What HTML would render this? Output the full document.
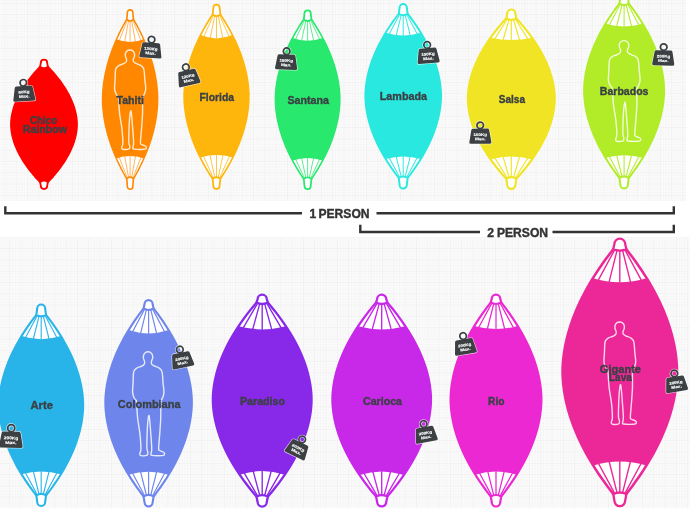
<!DOCTYPE html>
<html lang="en"><head><meta charset="utf-8"><title>Hammock sizes</title>
<style>
html,body{margin:0;padding:0;background:#fff}
body{width:690px;height:508px;overflow:hidden;position:relative}
svg{display:block;position:absolute;left:-4px;top:-4px;filter:blur(.55px)}
text{font-family:"Liberation Sans",sans-serif;font-weight:700}
.lb{fill:#3a4044;text-anchor:start;stroke:#3a4044;stroke-width:.35px}
.tg{fill:#fff;font-size:3.6px;text-anchor:middle;stroke:#fff;stroke-width:.12px}
.pp{fill:#333;font-size:12.1px;stroke:#333;stroke-width:.4px}
</style></head><body>
<svg width="698" height="516" viewBox="-4 -4 698 516">
<rect x="-4" y="-4" width="698" height="516" fill="#fff"/>
<rect x="-4" y="-4" width="690" height="205" fill="#fbfbfb"/>
<rect x="-4" y="237.2" width="698" height="275" fill="#fbfbfb"/>
<defs><pattern id="ga" x="4.5" y="2.8" width="11.3" height="11.3" patternUnits="userSpaceOnUse"><path d="M3.33,0V11.3 M0,3.33H11.3 M6.15,0V11.3 M0,6.15H11.3 M8.98,0V11.3 M0,8.98H11.3" stroke="#f6f6f6" stroke-width=".7" fill="none"/><path d="M.5,0V11.3 M0,.5H11.3" stroke="#f1f1f1" stroke-width=".9" fill="none"/></pattern><pattern id="gb" x="9.2" y="248.1" width="11.3" height="11.3" patternUnits="userSpaceOnUse"><path d="M3.33,0V11.3 M0,3.33H11.3 M6.15,0V11.3 M0,6.15H11.3 M8.98,0V11.3 M0,8.98H11.3" stroke="#f6f6f6" stroke-width=".7" fill="none"/><path d="M.5,0V11.3 M0,.5H11.3" stroke="#f1f1f1" stroke-width=".9" fill="none"/></pattern></defs>
<rect x="-4" y="-4" width="690" height="205" fill="url(#ga)"/>
<rect x="-4" y="237.2" width="698" height="275" fill="url(#gb)"/>
<g stroke="#fe0000" stroke-linejoin="round">
<path d="M47.96,66.6 49.78,68.53 51.54,70.45 53.24,72.38 54.89,74.31 56.48,76.23 58.02,78.16 59.5,80.09 60.92,82.01 62.29,83.94 63.59,85.87 64.85,87.79 66.04,89.72 67.17,91.65 68.25,93.57 69.27,95.5 70.22,97.43 71.12,99.35 71.96,101.28 72.74,103.21 73.45,105.13 74.11,107.06 74.7,108.99 75.23,110.91 75.7,112.84 76.1,114.77 76.43,116.69 76.7,118.62 76.89,120.55 77.02,122.47 77.06,124.4 77.02,126.33 76.89,128.25 76.7,130.18 76.43,132.11 76.1,134.03 75.7,135.96 75.23,137.89 74.7,139.81 74.11,141.74 73.45,143.67 72.74,145.59 71.96,147.52 71.12,149.45 70.22,151.37 69.27,153.3 68.25,155.23 67.17,157.15 66.04,159.08 64.85,161.01 63.59,162.93 62.29,164.86 60.92,166.79 59.5,168.71 58.02,170.64 56.48,172.57 54.89,174.49 53.24,176.42 51.54,178.35 49.78,180.27 47.96,182.2 L40.04,182.2 38.22,180.27 36.46,178.35 34.76,176.42 33.11,174.49 31.52,172.57 29.98,170.64 28.5,168.71 27.08,166.79 25.71,164.86 24.41,162.93 23.15,161.01 21.96,159.08 20.83,157.15 19.75,155.23 18.73,153.3 17.78,151.37 16.88,149.45 16.04,147.52 15.26,145.59 14.55,143.67 13.89,141.74 13.3,139.81 12.77,137.89 12.3,135.96 11.9,134.03 11.57,132.11 11.3,130.18 11.11,128.25 10.98,126.33 10.94,124.4 10.98,122.47 11.11,120.55 11.3,118.62 11.57,116.69 11.9,114.77 12.3,112.84 12.77,110.91 13.3,108.99 13.89,107.06 14.55,105.13 15.26,103.21 16.04,101.28 16.88,99.35 17.78,97.43 18.73,95.5 19.75,93.57 20.83,91.65 21.96,89.72 23.15,87.79 24.41,85.87 25.71,83.94 27.08,82.01 28.5,80.09 29.98,78.16 31.52,76.23 33.11,74.31 34.76,72.38 36.46,70.45 38.22,68.53 40.04,66.6Z" fill="#fe0000" stroke-width="1.67"/>
<path d="M40.11,66.6 L40.81,62.9 A3.19,3.19 0 0 1 47.19,62.9 L47.89,66.6 Q44,69.8 40.11,66.6 Z" fill="#fff" stroke-width="1.82"/>
<path d="M40.11,182.2 L40.81,185.8 A3.19,3.19 0 0 0 47.19,185.8 L47.89,182.2 Q44,179 40.11,182.2 Z" fill="#fff" stroke-width="1.82"/>
</g>
<g stroke="#ff8800" stroke-linejoin="round">
<path d="M133.52,19.4 135.03,22.06 136.49,24.71 137.9,27.37 139.27,30.03 140.59,32.68 141.87,35.34 143.1,38 144.28,40.65 145.41,43.31 146.5,45.97 147.54,48.62 148.53,51.28 149.47,53.94 150.36,56.59 151.21,59.25 152,61.91 152.75,64.56 153.44,67.22 154.09,69.88 154.68,72.53 155.23,75.19 155.72,77.85 156.16,80.5 156.55,83.16 156.88,85.82 157.16,88.47 157.38,91.13 157.54,93.79 157.64,96.44 157.68,99.1 157.64,101.76 157.54,104.41 157.38,107.07 157.16,109.73 156.88,112.38 156.55,115.04 156.16,117.7 155.72,120.35 155.23,123.01 154.68,125.67 154.09,128.32 153.44,130.98 152.75,133.64 152,136.29 151.21,138.95 150.36,141.61 149.47,144.26 148.53,146.92 147.54,149.58 146.5,152.23 145.41,154.89 144.28,157.55 143.1,160.2 141.87,162.86 140.59,165.52 139.27,168.17 137.9,170.83 136.49,173.49 135.03,176.14 133.52,178.8 L126.68,178.8 125.17,176.14 123.71,173.49 122.3,170.83 120.93,168.17 119.61,165.52 118.33,162.86 117.1,160.2 115.92,157.55 114.79,154.89 113.7,152.23 112.66,149.58 111.67,146.92 110.73,144.26 109.84,141.61 108.99,138.95 108.2,136.29 107.45,133.64 106.76,130.98 106.11,128.32 105.52,125.67 104.97,123.01 104.48,120.35 104.04,117.7 103.65,115.04 103.32,112.38 103.04,109.73 102.82,107.07 102.66,104.41 102.56,101.76 102.52,99.1 102.56,96.44 102.66,93.79 102.82,91.13 103.04,88.47 103.32,85.82 103.65,83.16 104.04,80.5 104.48,77.85 104.97,75.19 105.52,72.53 106.11,69.88 106.76,67.22 107.45,64.56 108.2,61.91 108.99,59.25 109.84,56.59 110.73,53.94 111.67,51.28 112.66,48.62 113.7,45.97 114.79,43.31 115.92,40.65 117.1,38 118.33,35.34 119.61,32.68 120.93,30.03 122.3,27.37 123.71,24.71 125.17,22.06 126.68,19.4Z" fill="#fff" stroke-width="1.44"/>
<path d="M127.43,19.9 L119.23,40.77 M127.43,178.3 L119.06,157.04 M128.73,19.9 L124.67,42.07 M128.73,178.3 L124.58,155.88 M130.1,19.9 L130.1,42.5 M130.1,178.3 L130.1,155.5 M131.47,19.9 L135.53,42.07 M131.47,178.3 L135.62,155.88 M132.77,19.9 L140.97,40.77 M132.77,178.3 L141.14,157.04" fill="none" stroke-width="0.76" stroke-opacity="0.81"/>
<path d="M116.52,39.3 Q130.1,44.7 143.68,39.3 L144.72,41.68 145.73,44.06 146.69,46.45 147.61,48.83 148.5,51.21 149.35,53.59 150.16,55.97 150.93,58.36 151.66,60.74 152.35,63.12 153,65.5 153.61,67.88 154.18,70.27 154.71,72.65 155.2,75.03 155.64,77.41 156.05,79.79 156.41,82.18 156.73,84.56 157,86.94 157.23,89.32 157.42,91.7 157.55,94.09 157.64,96.47 157.68,98.85 157.66,101.23 157.58,103.61 157.45,106 157.27,108.38 157.05,110.76 156.79,113.14 156.48,115.52 156.13,117.91 155.73,120.29 155.29,122.67 154.81,125.05 154.29,127.43 153.73,129.82 153.13,132.2 152.49,134.58 151.81,136.96 151.08,139.34 150.32,141.73 149.52,144.11 148.68,146.49 147.8,148.87 146.89,151.25 145.93,153.64 144.94,156.02 143.9,158.4 Q130.1,153.6 116.3,158.4 L115.26,156.02 114.27,153.64 113.31,151.25 112.4,148.87 111.52,146.49 110.68,144.11 109.88,141.73 109.12,139.34 108.39,136.96 107.71,134.58 107.07,132.2 106.47,129.82 105.91,127.43 105.39,125.05 104.91,122.67 104.47,120.29 104.07,117.91 103.72,115.52 103.41,113.14 103.15,110.76 102.93,108.38 102.75,106 102.62,103.61 102.54,101.23 102.52,98.85 102.56,96.47 102.65,94.09 102.78,91.7 102.97,89.32 103.2,86.94 103.47,84.56 103.79,82.18 104.15,79.79 104.56,77.41 105,75.03 105.49,72.65 106.02,70.27 106.59,67.88 107.2,65.5 107.85,63.12 108.54,60.74 109.27,58.36 110.04,55.97 110.85,53.59 111.7,51.21 112.59,48.83 113.51,46.45 114.47,44.06 115.48,41.68Z" fill="#ff8800" stroke="none"/>
<path d="M126.79,19.4 L127.38,12.54 A2.72,2.72 0 0 1 132.82,12.54 L133.41,19.4 Q130.1,22.6 126.79,19.4 Z" fill="#fff" stroke-width="1.65"/>
<path d="M126.79,178.8 L127.38,186.56 A2.72,2.72 0 0 0 132.82,186.56 L133.41,178.8 Q130.1,175.6 126.79,178.8 Z" fill="#fff" stroke-width="1.65"/>
</g>
<g stroke="#ffb60c" stroke-linejoin="round">
<path d="M220.4,14.5 222.17,17.24 223.89,19.98 225.56,22.71 227.18,25.45 228.73,28.19 230.24,30.93 231.69,33.67 233.08,36.41 234.41,39.14 235.7,41.88 236.92,44.62 238.09,47.36 239.2,50.1 240.25,52.84 241.25,55.58 242.18,58.31 243.06,61.05 243.88,63.79 244.64,66.53 245.35,69.27 245.99,72 246.57,74.74 247.08,77.48 247.54,80.22 247.93,82.96 248.26,85.7 248.52,88.44 248.71,91.17 248.83,93.91 248.88,96.65 248.83,99.39 248.71,102.13 248.52,104.87 248.26,107.6 247.93,110.34 247.54,113.08 247.08,115.82 246.57,118.56 245.99,121.3 245.35,124.03 244.64,126.77 243.88,129.51 243.06,132.25 242.18,134.99 241.25,137.73 240.25,140.46 239.2,143.2 238.09,145.94 236.92,148.68 235.7,151.42 234.41,154.16 233.08,156.89 231.69,159.63 230.24,162.37 228.73,165.11 227.18,167.85 225.56,170.59 223.89,173.32 222.17,176.06 220.4,178.8 L212.6,178.8 210.83,176.06 209.11,173.32 207.44,170.59 205.82,167.85 204.27,165.11 202.76,162.37 201.31,159.63 199.92,156.89 198.59,154.16 197.3,151.42 196.08,148.68 194.91,145.94 193.8,143.2 192.75,140.46 191.75,137.73 190.82,134.99 189.94,132.25 189.12,129.51 188.36,126.77 187.65,124.03 187.01,121.3 186.43,118.56 185.92,115.82 185.46,113.08 185.07,110.34 184.74,107.6 184.48,104.87 184.29,102.13 184.17,99.39 184.12,96.65 184.17,93.91 184.29,91.17 184.48,88.44 184.74,85.7 185.07,82.96 185.46,80.22 185.92,77.48 186.43,74.74 187.01,72 187.65,69.27 188.36,66.53 189.12,63.79 189.94,61.05 190.82,58.31 191.75,55.58 192.75,52.84 193.8,50.1 194.91,47.36 196.08,44.62 197.3,41.88 198.59,39.14 199.92,36.41 201.31,33.67 202.76,30.93 204.27,28.19 205.82,25.45 207.44,22.71 209.11,19.98 210.83,17.24 212.6,14.5Z" fill="#fff" stroke-width="1.64"/>
<path d="M213.46,15 L203.76,36.79 M213.46,178.3 L203.48,156.14 M214.94,15 L210.13,38.37 M214.94,178.3 L209.99,154.98 M216.5,15 L216.5,38.9 M216.5,178.3 L216.5,154.6 M218.06,15 L222.87,38.37 M218.06,178.3 L223.01,154.98 M219.54,15 L229.24,36.79 M219.54,178.3 L229.52,156.14" fill="none" stroke-width="0.9" stroke-opacity="0.86"/>
<path d="M200.58,35.1 Q216.5,41.7 232.42,35.1 L233.64,37.55 234.82,40 235.95,42.44 237.04,44.89 238.08,47.34 239.07,49.79 240.02,52.24 240.93,54.68 241.79,57.13 242.6,59.58 243.36,62.03 244.08,64.48 244.75,66.92 245.37,69.37 245.95,71.82 246.47,74.27 246.95,76.72 247.37,79.16 247.75,81.61 248.07,84.06 248.34,86.51 248.56,88.96 248.72,91.4 248.83,93.85 248.88,96.3 248.85,98.75 248.76,101.2 248.61,103.64 248.41,106.09 248.15,108.54 247.84,110.99 247.48,113.44 247.07,115.88 246.61,118.33 246.1,120.78 245.54,123.23 244.93,125.68 244.28,128.12 243.57,130.57 242.82,133.02 242.02,135.47 241.18,137.92 240.29,140.36 239.35,142.81 238.37,145.26 237.34,147.71 236.27,150.16 235.15,152.6 233.98,155.05 232.77,157.5 Q216.5,152.7 200.23,157.5 L199.02,155.05 197.85,152.6 196.73,150.16 195.66,147.71 194.63,145.26 193.65,142.81 192.71,140.36 191.82,137.92 190.98,135.47 190.18,133.02 189.43,130.57 188.72,128.12 188.07,125.68 187.46,123.23 186.9,120.78 186.39,118.33 185.93,115.88 185.52,113.44 185.16,110.99 184.85,108.54 184.59,106.09 184.39,103.64 184.24,101.2 184.15,98.75 184.12,96.3 184.17,93.85 184.28,91.4 184.44,88.96 184.66,86.51 184.93,84.06 185.25,81.61 185.63,79.16 186.05,76.72 186.53,74.27 187.05,71.82 187.63,69.37 188.25,66.92 188.92,64.48 189.64,62.03 190.4,59.58 191.21,57.13 192.07,54.68 192.98,52.24 193.93,49.79 194.92,47.34 195.96,44.89 197.05,42.44 198.18,40 199.36,37.55Z" fill="#ffb60c" stroke="none"/>
<path d="M212.68,14.5 L213.37,7.73 A3.13,3.13 0 0 1 219.63,7.73 L220.32,14.5 Q216.5,17.7 212.68,14.5 Z" fill="#fff" stroke-width="1.8"/>
<path d="M212.68,178.8 L213.37,185.87 A3.13,3.13 0 0 0 219.63,185.87 L220.32,178.8 Q216.5,175.6 212.68,178.8 Z" fill="#fff" stroke-width="1.8"/>
</g>
<g stroke="#28e86e" stroke-linejoin="round">
<path d="M311.48,19.4 313.24,22.06 314.95,24.72 316.61,27.38 318.21,30.04 319.76,32.7 321.26,35.36 322.7,38.02 324.08,40.68 325.41,43.34 326.68,46 327.9,48.66 329.06,51.32 330.16,53.98 331.21,56.64 332.2,59.3 333.13,61.96 334,64.62 334.82,67.28 335.57,69.94 336.27,72.6 336.91,75.26 337.48,77.92 338,80.58 338.45,83.24 338.84,85.9 339.17,88.56 339.43,91.22 339.62,93.88 339.74,96.54 339.78,99.2 339.74,101.86 339.62,104.52 339.43,107.18 339.17,109.84 338.84,112.5 338.45,115.16 338,117.82 337.48,120.48 336.91,123.14 336.27,125.8 335.57,128.46 334.82,131.12 334,133.78 333.13,136.44 332.2,139.1 331.21,141.76 330.16,144.42 329.06,147.08 327.9,149.74 326.68,152.4 325.41,155.06 324.08,157.72 322.7,160.38 321.26,163.04 319.76,165.7 318.21,168.36 316.61,171.02 314.95,173.68 313.24,176.34 311.48,179 L303.72,179 301.96,176.34 300.25,173.68 298.59,171.02 296.99,168.36 295.44,165.7 293.94,163.04 292.5,160.38 291.12,157.72 289.79,155.06 288.52,152.4 287.3,149.74 286.14,147.08 285.04,144.42 283.99,141.76 283,139.1 282.07,136.44 281.2,133.78 280.38,131.12 279.63,128.46 278.93,125.8 278.29,123.14 277.72,120.48 277.2,117.82 276.75,115.16 276.36,112.5 276.03,109.84 275.77,107.18 275.58,104.52 275.46,101.86 275.42,99.2 275.46,96.54 275.58,93.88 275.77,91.22 276.03,88.56 276.36,85.9 276.75,83.24 277.2,80.58 277.72,77.92 278.29,75.26 278.93,72.6 279.63,69.94 280.38,67.28 281.2,64.62 282.07,61.96 283,59.3 283.99,56.64 285.04,53.98 286.14,51.32 287.3,48.66 288.52,46 289.79,43.34 291.12,40.68 292.5,38.02 293.94,35.36 295.44,32.7 296.99,30.04 298.59,27.38 300.25,24.72 301.96,22.06 303.72,19.4Z" fill="#fff" stroke-width="1.64"/>
<path d="M304.58,19.9 L295.53,39.47 M304.58,178.5 L295.53,159 M306.05,19.9 L301.57,40.77 M306.05,178.5 L301.57,157.8 M307.6,19.9 L307.6,41.2 M307.6,178.5 L307.6,157.4 M309.15,19.9 L313.63,40.77 M309.15,178.5 L313.63,157.8 M310.62,19.9 L319.67,39.47 M310.62,178.5 L319.67,159" fill="none" stroke-width="0.89" stroke-opacity="0.86"/>
<path d="M292.51,38 Q307.6,43.4 322.69,38 L323.96,40.45 325.19,42.9 326.37,45.34 327.51,47.79 328.59,50.24 329.63,52.69 330.62,55.14 331.57,57.58 332.46,60.03 333.3,62.48 334.1,64.93 334.85,67.38 335.54,69.82 336.19,72.27 336.78,74.72 337.33,77.17 337.82,79.62 338.26,82.06 338.65,84.51 338.98,86.96 339.26,89.41 339.48,91.86 339.64,94.3 339.74,96.75 339.78,99.2 339.74,101.65 339.64,104.1 339.48,106.54 339.26,108.99 338.98,111.44 338.65,113.89 338.26,116.34 337.82,118.78 337.33,121.23 336.78,123.68 336.19,126.13 335.54,128.58 334.85,131.02 334.1,133.47 333.3,135.92 332.46,138.37 331.57,140.82 330.62,143.26 329.63,145.71 328.59,148.16 327.51,150.61 326.37,153.06 325.19,155.5 323.96,157.95 322.69,160.4 Q307.6,155.4 292.51,160.4 L291.24,157.95 290.01,155.5 288.83,153.06 287.69,150.61 286.61,148.16 285.57,145.71 284.58,143.26 283.63,140.82 282.74,138.37 281.9,135.92 281.1,133.47 280.35,131.02 279.66,128.58 279.01,126.13 278.42,123.68 277.87,121.23 277.38,118.78 276.94,116.34 276.55,113.89 276.22,111.44 275.94,108.99 275.72,106.54 275.56,104.1 275.46,101.65 275.42,99.2 275.46,96.75 275.56,94.3 275.72,91.86 275.94,89.41 276.22,86.96 276.55,84.51 276.94,82.06 277.38,79.62 277.87,77.17 278.42,74.72 279.01,72.27 279.66,69.82 280.35,67.38 281.1,64.93 281.9,62.48 282.74,60.03 283.63,57.58 284.58,55.14 285.57,52.69 286.61,50.24 287.69,47.79 288.83,45.34 290.01,42.9 291.24,40.45Z" fill="#28e86e" stroke="none"/>
<path d="M303.8,19.4 L304.48,13.41 A3.12,3.12 0 0 1 310.72,13.41 L311.4,19.4 Q307.6,22.6 303.8,19.4 Z" fill="#fff" stroke-width="1.79"/>
<path d="M303.8,179 L304.48,185.99 A3.12,3.12 0 0 0 310.72,185.99 L311.4,179 Q307.6,175.8 303.8,179 Z" fill="#fff" stroke-width="1.79"/>
</g>
<g stroke="#28e8e0" stroke-linejoin="round">
<path d="M407.64,13.7 409.72,16.44 411.74,19.18 413.7,21.91 415.6,24.65 417.42,27.39 419.19,30.13 420.89,32.87 422.52,35.61 424.09,38.34 425.59,41.08 427.03,43.82 428.4,46.56 429.7,49.3 430.94,52.04 432.11,54.78 433.21,57.51 434.24,60.25 435.2,62.99 436.09,65.73 436.92,68.47 437.67,71.2 438.35,73.94 438.96,76.68 439.49,79.42 439.95,82.16 440.33,84.9 440.64,87.64 440.87,90.37 441.01,93.11 441.06,95.85 441.01,98.59 440.87,101.33 440.64,104.07 440.33,106.8 439.95,109.54 439.49,112.28 438.96,115.02 438.35,117.76 437.67,120.5 436.92,123.23 436.09,125.97 435.2,128.71 434.24,131.45 433.21,134.19 432.11,136.93 430.94,139.66 429.7,142.4 428.4,145.14 427.03,147.88 425.59,150.62 424.09,153.36 422.52,156.09 420.89,158.83 419.19,161.57 417.42,164.31 415.6,167.05 413.7,169.78 411.74,172.52 409.72,175.26 407.64,178 L398.76,178 396.68,175.26 394.66,172.52 392.7,169.78 390.8,167.05 388.98,164.31 387.21,161.57 385.51,158.83 383.88,156.09 382.31,153.36 380.81,150.62 379.37,147.88 378,145.14 376.7,142.4 375.46,139.66 374.29,136.93 373.19,134.19 372.16,131.45 371.2,128.71 370.31,125.97 369.48,123.23 368.73,120.5 368.05,117.76 367.44,115.02 366.91,112.28 366.45,109.54 366.07,106.8 365.76,104.07 365.53,101.33 365.39,98.59 365.34,95.85 365.39,93.11 365.53,90.37 365.76,87.64 366.07,84.9 366.45,82.16 366.91,79.42 367.44,76.68 368.05,73.94 368.73,71.2 369.48,68.47 370.31,65.73 371.2,62.99 372.16,60.25 373.19,57.51 374.29,54.78 375.46,52.04 376.7,49.3 378,46.56 379.37,43.82 380.81,41.08 382.31,38.34 383.88,35.61 385.51,32.87 387.21,30.13 388.98,27.39 390.8,24.65 392.7,21.91 394.66,19.18 396.68,16.44 398.76,13.7Z" fill="#fff" stroke-width="1.88"/>
<path d="M399.74,14.2 L389.08,34.27 M399.74,177.5 L389.08,157.5 M401.42,14.2 L396.14,35.57 M401.42,177.5 L396.14,156.3 M403.2,14.2 L403.2,36 M403.2,177.5 L403.2,155.9 M404.98,14.2 L410.26,35.57 M404.98,177.5 L410.26,156.3 M406.66,14.2 L417.32,34.27 M406.66,177.5 L417.32,157.5" fill="none" stroke-width="1.05" stroke-opacity="0.92"/>
<path d="M385.55,32.8 Q403.2,38.2 420.85,32.8 L422.35,35.32 423.81,37.84 425.2,40.37 426.55,42.89 427.83,45.41 429.06,47.93 430.23,50.45 431.35,52.98 432.4,55.5 433.4,58.02 434.34,60.54 435.22,63.06 436.05,65.59 436.81,68.11 437.52,70.63 438.16,73.15 438.74,75.67 439.26,78.2 439.72,80.72 440.11,83.24 440.44,85.76 440.7,88.28 440.89,90.81 441.02,93.33 441.06,95.85 441.02,98.37 440.89,100.89 440.7,103.42 440.44,105.94 440.11,108.46 439.72,110.98 439.26,113.5 438.74,116.03 438.16,118.55 437.52,121.07 436.81,123.59 436.05,126.11 435.22,128.64 434.34,131.16 433.4,133.68 432.4,136.2 431.35,138.72 430.23,141.25 429.06,143.77 427.83,146.29 426.55,148.81 425.2,151.33 423.81,153.86 422.35,156.38 420.85,158.9 Q403.2,153.9 385.55,158.9 L384.05,156.38 382.59,153.86 381.2,151.33 379.85,148.81 378.57,146.29 377.34,143.77 376.17,141.25 375.05,138.72 374,136.2 373,133.68 372.06,131.16 371.18,128.64 370.35,126.11 369.59,123.59 368.88,121.07 368.24,118.55 367.66,116.03 367.14,113.5 366.68,110.98 366.29,108.46 365.96,105.94 365.7,103.42 365.51,100.89 365.38,98.37 365.34,95.85 365.38,93.33 365.51,90.81 365.7,88.28 365.96,85.76 366.29,83.24 366.68,80.72 367.14,78.2 367.66,75.67 368.24,73.15 368.88,70.63 369.59,68.11 370.35,65.59 371.18,63.06 372.06,60.54 373,58.02 374,55.5 375.05,52.98 376.17,50.45 377.34,47.93 378.57,45.41 379.85,42.89 381.2,40.37 382.59,37.84 384.05,35.32Z" fill="#28e8e0" stroke="none"/>
<path d="M398.8,13.7 L399.59,7.69 A3.61,3.61 0 0 1 406.81,7.69 L407.6,13.7 Q403.2,16.9 398.8,13.7 Z" fill="#fff" stroke-width="1.96"/>
<path d="M398.8,178 L399.59,184.91 A3.61,3.61 0 0 0 406.81,184.91 L407.6,178 Q403.2,174.8 398.8,178 Z" fill="#fff" stroke-width="1.96"/>
</g>
<g stroke="#f0e424" stroke-linejoin="round">
<path d="M516.29,18.3 518.69,20.98 521.02,23.65 523.27,26.33 525.44,29 527.55,31.68 529.58,34.35 531.53,37.03 533.41,39.7 535.22,42.38 536.94,45.05 538.6,47.73 540.17,50.4 541.67,53.08 543.09,55.75 544.44,58.42 545.7,61.1 546.89,63.78 548,66.45 549.03,69.12 549.97,71.8 550.84,74.47 551.62,77.15 552.32,79.83 552.93,82.5 553.46,85.17 553.9,87.85 554.26,90.52 554.52,93.2 554.68,95.88 554.74,98.55 554.68,101.22 554.52,103.9 554.26,106.58 553.9,109.25 553.46,111.92 552.93,114.6 552.32,117.27 551.62,119.95 550.84,122.62 549.97,125.3 549.03,127.97 548,130.65 546.89,133.33 545.7,136 544.44,138.68 543.09,141.35 541.67,144.03 540.17,146.7 538.6,149.38 536.94,152.05 535.22,154.73 533.41,157.4 531.53,160.08 529.58,162.75 527.55,165.43 525.44,168.1 523.27,170.78 521.02,173.45 518.69,176.12 516.29,178.8 L506.31,178.8 503.91,176.12 501.58,173.45 499.33,170.78 497.16,168.1 495.05,165.43 493.02,162.75 491.07,160.08 489.19,157.4 487.38,154.73 485.66,152.05 484,149.38 482.43,146.7 480.93,144.03 479.51,141.35 478.16,138.68 476.9,136 475.71,133.33 474.6,130.65 473.57,127.97 472.63,125.3 471.76,122.62 470.98,119.95 470.28,117.27 469.67,114.6 469.14,111.92 468.7,109.25 468.34,106.58 468.08,103.9 467.92,101.22 467.86,98.55 467.92,95.88 468.08,93.2 468.34,90.52 468.7,87.85 469.14,85.17 469.67,82.5 470.28,79.83 470.98,77.15 471.76,74.47 472.63,71.8 473.57,69.12 474.6,66.45 475.71,63.78 476.9,61.1 478.16,58.42 479.51,55.75 480.93,53.08 482.43,50.4 484,47.73 485.66,45.05 487.38,42.38 489.19,39.7 491.07,37.03 493.02,34.35 495.05,31.68 497.16,29 499.33,26.33 501.58,23.65 503.91,20.98 506.31,18.3Z" fill="#fff" stroke-width="2.12"/>
<path d="M507.41,18.8 L494.67,39.13 M507.41,178.3 L494.84,158.02 M509.3,18.8 L502.99,40.23 M509.3,178.3 L503.07,156.58 M511.3,18.8 L511.3,40.6 M511.3,178.3 L511.3,156.1 M513.3,18.8 L519.61,40.23 M513.3,178.3 L519.53,156.58 M515.19,18.8 L527.93,39.13 M515.19,178.3 L527.76,158.02" fill="none" stroke-width="1.2" stroke-opacity="0.98"/>
<path d="M490.52,37.8 Q511.3,42.4 532.08,37.8 L533.78,40.24 535.41,42.67 536.98,45.11 538.49,47.54 539.93,49.98 541.31,52.42 542.63,54.85 543.88,57.29 545.06,59.72 546.18,62.16 547.24,64.6 548.23,67.03 549.15,69.47 550.01,71.9 550.8,74.34 551.52,76.78 552.17,79.21 552.75,81.65 553.26,84.08 553.7,86.52 554.06,88.96 554.35,91.39 554.56,93.83 554.7,96.26 554.74,98.7 554.68,101.14 554.54,103.57 554.32,106.01 554.02,108.44 553.65,110.88 553.2,113.32 552.68,115.75 552.09,118.19 551.43,120.62 550.7,123.06 549.91,125.5 549.04,127.93 548.11,130.37 547.11,132.8 546.05,135.24 544.92,137.68 543.73,140.11 542.47,142.55 541.14,144.98 539.76,147.42 538.31,149.86 536.79,152.29 535.21,154.73 533.57,157.16 531.87,159.6 Q511.3,153.6 490.73,159.6 L489.03,157.16 487.39,154.73 485.81,152.29 484.29,149.86 482.84,147.42 481.46,144.98 480.13,142.55 478.87,140.11 477.68,137.68 476.55,135.24 475.49,132.8 474.49,130.37 473.56,127.93 472.69,125.5 471.9,123.06 471.17,120.62 470.51,118.19 469.92,115.75 469.4,113.32 468.95,110.88 468.58,108.44 468.28,106.01 468.06,103.57 467.92,101.14 467.86,98.7 467.9,96.26 468.04,93.83 468.25,91.39 468.54,88.96 468.9,86.52 469.34,84.08 469.85,81.65 470.43,79.21 471.08,76.78 471.8,74.34 472.59,71.9 473.45,69.47 474.37,67.03 475.36,64.6 476.42,62.16 477.54,59.72 478.72,57.29 479.97,54.85 481.29,52.42 482.67,49.98 484.11,47.54 485.62,45.11 487.19,42.67 488.82,40.24Z" fill="#f0e424" stroke="none"/>
<path d="M506.32,18.3 L507.21,13.65 A4.09,4.09 0 0 1 515.39,13.65 L516.28,18.3 Q511.3,21.5 506.32,18.3 Z" fill="#fff" stroke-width="2.13"/>
<path d="M506.32,178.8 L507.21,184.75 A4.09,4.09 0 0 0 515.39,184.75 L516.28,178.8 Q511.3,175.6 506.32,178.8 Z" fill="#fff" stroke-width="2.13"/>
</g>
<g stroke="#b2ec28" stroke-linejoin="round">
<path d="M628.75,3.5 630.96,6.41 633.1,9.32 635.17,12.22 637.17,15.13 639.11,18.04 640.97,20.95 642.77,23.86 644.5,26.77 646.16,29.68 647.75,32.58 649.27,35.49 650.72,38.4 652.1,41.31 653.4,44.22 654.64,47.12 655.8,50.03 656.89,52.94 657.91,55.85 658.86,58.76 659.73,61.67 660.52,64.58 661.24,67.48 661.89,70.39 662.45,73.3 662.94,76.21 663.35,79.12 663.67,82.03 663.91,84.93 664.06,87.84 664.11,90.75 664.06,93.66 663.91,96.57 663.67,99.47 663.35,102.38 662.94,105.29 662.45,108.2 661.89,111.11 661.24,114.02 660.52,116.92 659.73,119.83 658.86,122.74 657.91,125.65 656.89,128.56 655.8,131.47 654.64,134.38 653.4,137.28 652.1,140.19 650.72,143.1 649.27,146.01 647.75,148.92 646.16,151.82 644.5,154.73 642.77,157.64 640.97,160.55 639.11,163.46 637.17,166.37 635.17,169.28 633.1,172.18 630.96,175.09 628.75,178 L619.45,178 617.24,175.09 615.1,172.18 613.03,169.28 611.03,166.37 609.09,163.46 607.23,160.55 605.43,157.64 603.7,154.73 602.04,151.82 600.45,148.92 598.93,146.01 597.48,143.1 596.1,140.19 594.8,137.28 593.56,134.38 592.4,131.47 591.31,128.56 590.29,125.65 589.34,122.74 588.47,119.83 587.68,116.92 586.96,114.02 586.31,111.11 585.75,108.2 585.26,105.29 584.85,102.38 584.53,99.47 584.29,96.57 584.14,93.66 584.09,90.75 584.14,87.84 584.29,84.93 584.53,82.03 584.85,79.12 585.26,76.21 585.75,73.3 586.31,70.39 586.96,67.48 587.68,64.58 588.47,61.67 589.34,58.76 590.29,55.85 591.31,52.94 592.4,50.03 593.56,47.12 594.8,44.22 596.1,41.31 597.48,38.4 598.93,35.49 600.45,32.58 602.04,29.68 603.7,26.77 605.43,23.86 607.23,20.95 609.09,18.04 611.03,15.13 613.03,12.22 615.1,9.32 617.24,6.41 619.45,3.5Z" fill="#fff" stroke-width="1.97"/>
<path d="M620.47,4 L609.19,25.24 M620.47,177.5 L609.19,156.3 M622.24,4 L616.65,26.48 M622.24,177.5 L616.65,155.1 M624.1,4 L624.1,26.9 M624.1,177.5 L624.1,154.7 M625.96,4 L631.55,26.48 M625.96,177.5 L631.55,155.1 M627.73,4 L639.01,25.24 M627.73,177.5 L639.01,156.3" fill="none" stroke-width="1.11" stroke-opacity="0.94"/>
<path d="M605.47,23.8 Q624.1,29 642.73,23.8 L644.33,26.48 645.87,29.16 647.34,31.83 648.76,34.51 650.12,37.19 651.42,39.87 652.66,42.55 653.84,45.22 654.96,47.9 656.01,50.58 657.01,53.26 657.94,55.94 658.81,58.61 659.62,61.29 660.36,63.97 661.05,66.65 661.66,69.33 662.21,72 662.69,74.68 663.11,77.36 663.46,80.04 663.73,82.72 663.94,85.39 664.07,88.07 664.11,90.75 664.07,93.43 663.94,96.11 663.73,98.78 663.46,101.46 663.11,104.14 662.69,106.82 662.21,109.5 661.66,112.17 661.05,114.85 660.36,117.53 659.62,120.21 658.81,122.89 657.94,125.56 657.01,128.24 656.01,130.92 654.96,133.6 653.84,136.28 652.66,138.95 651.42,141.63 650.12,144.31 648.76,146.99 647.34,149.67 645.87,152.34 644.33,155.02 642.73,157.7 Q624.1,152.7 605.47,157.7 L603.87,155.02 602.33,152.34 600.86,149.67 599.44,146.99 598.08,144.31 596.78,141.63 595.54,138.95 594.36,136.28 593.24,133.6 592.19,130.92 591.19,128.24 590.26,125.56 589.39,122.89 588.58,120.21 587.84,117.53 587.15,114.85 586.54,112.17 585.99,109.5 585.51,106.82 585.09,104.14 584.74,101.46 584.47,98.78 584.26,96.11 584.13,93.43 584.09,90.75 584.13,88.07 584.26,85.39 584.47,82.72 584.74,80.04 585.09,77.36 585.51,74.68 585.99,72 586.54,69.33 587.15,66.65 587.84,63.97 588.58,61.29 589.39,58.61 590.26,55.94 591.19,53.26 592.19,50.58 593.24,47.9 594.36,45.22 595.54,42.55 596.78,39.87 598.08,37.19 599.44,34.51 600.86,31.83 602.33,29.16 603.87,26.48Z" fill="#b2ec28" stroke="none"/>
<path d="M619.48,3.5 L620.31,-3.19 A3.79,3.79 0 0 1 627.89,-3.19 L628.72,3.5 Q624.1,6.7 619.48,3.5 Z" fill="#fff" stroke-width="2.03"/>
<path d="M619.48,178 L620.31,184.69 A3.79,3.79 0 0 0 627.89,184.69 L628.72,178 Q624.1,174.8 619.48,178 Z" fill="#fff" stroke-width="2.03"/>
</g>
<g stroke="#28b4e8" stroke-linejoin="round">
<path d="M46.05,314.8 48.36,317.81 50.61,320.82 52.78,323.84 54.88,326.85 56.92,329.86 58.88,332.87 60.76,335.88 62.58,338.89 64.32,341.91 65.99,344.92 67.58,347.93 69.11,350.94 70.55,353.95 71.93,356.96 73.22,359.98 74.45,362.99 75.59,366 76.66,369.01 77.65,372.02 78.57,375.03 79.4,378.05 80.16,381.06 80.83,384.07 81.43,387.08 81.94,390.09 82.36,393.1 82.7,396.12 82.96,399.13 83.11,402.14 83.17,405.15 83.11,408.16 82.96,411.17 82.7,414.19 82.36,417.2 81.94,420.21 81.43,423.22 80.83,426.23 80.16,429.24 79.4,432.25 78.57,435.27 77.65,438.28 76.66,441.29 75.59,444.3 74.45,447.31 73.22,450.32 71.93,453.34 70.55,456.35 69.11,459.36 67.58,462.37 65.99,465.38 64.32,468.39 62.58,471.41 60.76,474.42 58.88,477.43 56.92,480.44 54.88,483.45 52.78,486.47 50.61,489.48 48.36,492.49 46.05,495.5 L36.35,495.5 34.04,492.49 31.79,489.48 29.62,486.47 27.52,483.45 25.48,480.44 23.52,477.43 21.64,474.42 19.82,471.41 18.08,468.39 16.41,465.38 14.82,462.37 13.29,459.36 11.85,456.35 10.47,453.34 9.18,450.32 7.95,447.31 6.81,444.3 5.74,441.29 4.75,438.28 3.83,435.27 3,432.25 2.24,429.24 1.57,426.23 0.97,423.22 0.46,420.21 0.04,417.2 -0.3,414.19 -0.56,411.17 -0.71,408.16 -0.77,405.15 -0.71,402.14 -0.56,399.13 -0.3,396.12 0.04,393.1 0.46,390.09 0.97,387.08 1.57,384.07 2.24,381.06 3,378.05 3.83,375.03 4.75,372.02 5.74,369.01 6.81,366 7.95,362.99 9.18,359.98 10.47,356.96 11.85,353.95 13.29,350.94 14.82,347.93 16.41,344.92 18.08,341.91 19.82,338.89 21.64,335.88 23.52,332.87 25.48,329.86 27.52,326.85 29.62,323.84 31.79,320.82 34.04,317.81 36.35,314.8Z" fill="#fff" stroke-width="2.06"/>
<path d="M37.42,315.3 L25.44,337.72 M37.42,495 L25.44,472.69 M39.26,315.3 L33.32,339.2 M39.26,495 L33.32,471.35 M41.2,315.3 L41.2,339.7 M41.2,495 L41.2,470.9 M43.14,315.3 L49.08,339.2 M43.14,495 L49.08,471.35 M44.98,315.3 L56.96,337.72 M44.98,495 L56.96,472.69" fill="none" stroke-width="1.16" stroke-opacity="0.96"/>
<path d="M21.5,336.1 Q41.2,342.3 60.9,336.1 L62.56,338.86 64.16,341.62 65.7,344.39 67.18,347.15 68.59,349.91 69.95,352.67 71.24,355.43 72.47,358.2 73.63,360.96 74.73,363.72 75.77,366.48 76.74,369.24 77.65,372.01 78.49,374.77 79.27,377.53 79.97,380.29 80.62,383.05 81.19,385.82 81.69,388.58 82.13,391.34 82.49,394.1 82.78,396.86 82.99,399.63 83.12,402.39 83.17,405.15 83.12,407.91 82.99,410.67 82.78,413.44 82.49,416.2 82.13,418.96 81.69,421.72 81.19,424.48 80.62,427.25 79.97,430.01 79.27,432.77 78.49,435.53 77.65,438.29 76.74,441.06 75.77,443.82 74.73,446.58 73.63,449.34 72.47,452.1 71.24,454.87 69.95,457.63 68.59,460.39 67.18,463.15 65.7,465.91 64.16,468.68 62.56,471.44 60.9,474.2 Q41.2,468.6 21.5,474.2 L19.84,471.44 18.24,468.68 16.7,465.91 15.22,463.15 13.81,460.39 12.45,457.63 11.16,454.87 9.93,452.1 8.77,449.34 7.67,446.58 6.63,443.82 5.66,441.06 4.75,438.29 3.91,435.53 3.13,432.77 2.43,430.01 1.78,427.25 1.21,424.48 0.71,421.72 0.27,418.96 -0.09,416.2 -0.38,413.44 -0.59,410.67 -0.72,407.91 -0.77,405.15 -0.72,402.39 -0.59,399.63 -0.38,396.86 -0.09,394.1 0.27,391.34 0.71,388.58 1.21,385.82 1.78,383.05 2.43,380.29 3.13,377.53 3.91,374.77 4.75,372.01 5.66,369.24 6.63,366.48 7.67,363.72 8.77,360.96 9.93,358.2 11.16,355.43 12.45,352.67 13.81,349.91 15.22,347.15 16.7,344.39 18.24,341.62 19.84,338.86Z" fill="#28b4e8" stroke="none"/>
<path d="M36.37,314.8 L37.24,308.5 A3.96,3.96 0 0 1 45.16,308.5 L46.03,314.8 Q41.2,318 36.37,314.8 Z" fill="#fff" stroke-width="2.09"/>
<path d="M36.37,495.5 L37.24,502 A3.96,3.96 0 0 0 45.16,502 L46.03,495.5 Q41.2,492.3 36.37,495.5 Z" fill="#fff" stroke-width="2.09"/>
</g>
<g stroke="#6e86ec" stroke-linejoin="round">
<path d="M153.57,308.4 155.96,311.53 158.27,314.67 160.52,317.8 162.68,320.94 164.78,324.07 166.8,327.21 168.74,330.34 170.61,333.48 172.41,336.61 174.13,339.75 175.78,342.88 177.34,346.02 178.84,349.15 180.25,352.29 181.59,355.42 182.85,358.56 184.03,361.69 185.13,364.83 186.16,367.96 187.1,371.1 187.96,374.24 188.74,377.37 189.43,380.5 190.05,383.64 190.57,386.77 191.01,389.91 191.36,393.04 191.62,396.18 191.78,399.31 191.84,402.45 191.78,405.58 191.62,408.72 191.36,411.86 191.01,414.99 190.57,418.12 190.05,421.26 189.43,424.39 188.74,427.53 187.96,430.66 187.1,433.8 186.16,436.94 185.13,440.07 184.03,443.2 182.85,446.34 181.59,449.48 180.25,452.61 178.84,455.75 177.34,458.88 175.78,462.01 174.13,465.15 172.41,468.28 170.61,471.42 168.74,474.56 166.8,477.69 164.78,480.83 162.68,483.96 160.52,487.1 158.27,490.23 155.96,493.37 153.57,496.5 L143.63,496.5 141.24,493.37 138.93,490.23 136.68,487.1 134.52,483.96 132.42,480.83 130.4,477.69 128.46,474.56 126.59,471.42 124.79,468.28 123.07,465.15 121.42,462.01 119.86,458.88 118.36,455.75 116.95,452.61 115.61,449.48 114.35,446.34 113.17,443.2 112.07,440.07 111.04,436.94 110.1,433.8 109.24,430.66 108.46,427.53 107.77,424.39 107.15,421.26 106.63,418.12 106.19,414.99 105.84,411.86 105.58,408.72 105.42,405.58 105.36,402.45 105.42,399.31 105.58,396.18 105.84,393.04 106.19,389.91 106.63,386.77 107.15,383.64 107.77,380.5 108.46,377.37 109.24,374.24 110.1,371.1 111.04,367.96 112.07,364.83 113.17,361.69 114.35,358.56 115.61,355.42 116.95,352.29 118.36,349.15 119.86,346.02 121.42,342.88 123.07,339.75 124.79,336.61 126.59,333.48 128.46,330.34 130.4,327.21 132.42,324.07 134.52,320.94 136.68,317.8 138.93,314.67 141.24,311.53 143.63,308.4Z" fill="#fff" stroke-width="2.11"/>
<path d="M144.72,308.9 L132.6,331.82 M144.72,496 L132.6,473.22 M146.61,308.9 L140.6,333.46 M146.61,496 L140.6,471.78 M148.6,308.9 L148.6,334 M148.6,496 L148.6,471.3 M150.59,308.9 L156.6,333.46 M150.59,496 L156.6,471.78 M152.48,308.9 L164.6,331.82 M152.48,496 L164.6,473.22" fill="none" stroke-width="1.2" stroke-opacity="0.98"/>
<path d="M128.61,330.1 Q148.6,336.9 168.59,330.1 L170.33,332.99 172,335.89 173.61,338.78 175.15,341.68 176.63,344.57 178.04,347.46 179.39,350.36 180.67,353.25 181.89,356.15 183.04,359.04 184.12,361.93 185.13,364.83 186.08,367.72 186.96,370.62 187.77,373.51 188.51,376.4 189.18,379.3 189.77,382.19 190.3,385.09 190.75,387.98 191.13,390.87 191.43,393.77 191.65,396.66 191.79,399.56 191.84,402.45 191.79,405.34 191.65,408.24 191.43,411.13 191.13,414.03 190.75,416.92 190.3,419.81 189.77,422.71 189.18,425.6 188.51,428.5 187.77,431.39 186.96,434.28 186.08,437.18 185.13,440.07 184.12,442.97 183.04,445.86 181.89,448.75 180.67,451.65 179.39,454.54 178.04,457.44 176.63,460.33 175.15,463.22 173.61,466.12 172,469.01 170.33,471.91 168.59,474.8 Q148.6,468.8 128.61,474.8 L126.87,471.91 125.2,469.01 123.59,466.12 122.05,463.22 120.57,460.33 119.16,457.44 117.81,454.54 116.53,451.65 115.31,448.75 114.16,445.86 113.08,442.97 112.07,440.07 111.12,437.18 110.24,434.28 109.43,431.39 108.69,428.5 108.02,425.6 107.43,422.71 106.9,419.81 106.45,416.92 106.07,414.03 105.77,411.13 105.55,408.24 105.41,405.34 105.36,402.45 105.41,399.56 105.55,396.66 105.77,393.77 106.07,390.87 106.45,387.98 106.9,385.09 107.43,382.19 108.02,379.3 108.69,376.4 109.43,373.51 110.24,370.62 111.12,367.72 112.07,364.83 113.08,361.93 114.16,359.04 115.31,356.15 116.53,353.25 117.81,350.36 119.16,347.46 120.57,344.57 122.05,341.68 123.59,338.78 125.2,335.89 126.87,332.99Z" fill="#6e86ec" stroke="none"/>
<path d="M143.64,308.4 L144.53,304.23 A4.07,4.07 0 0 1 152.67,304.23 L153.56,308.4 Q148.6,311.6 143.64,308.4 Z" fill="#fff" stroke-width="2.13"/>
<path d="M143.64,496.5 L144.53,502.37 A4.07,4.07 0 0 0 152.67,502.37 L153.56,496.5 Q148.6,493.3 143.64,496.5 Z" fill="#fff" stroke-width="2.13"/>
</g>
<g stroke="#8828e8" stroke-linejoin="round">
<path d="M267.77,302.4 270.5,305.64 273.15,308.88 275.71,312.12 278.19,315.36 280.58,318.6 282.89,321.84 285.11,325.08 287.25,328.32 289.3,331.56 291.27,334.8 293.15,338.04 294.94,341.28 296.65,344.52 298.27,347.76 299.79,351 301.23,354.24 302.58,357.48 303.84,360.72 305.01,363.96 306.09,367.2 307.07,370.44 307.96,373.68 308.76,376.92 309.46,380.16 310.06,383.4 310.56,386.64 310.96,389.88 311.26,393.12 311.45,396.36 311.51,399.6 311.45,402.84 311.26,406.08 310.96,409.32 310.56,412.56 310.06,415.8 309.46,419.04 308.76,422.28 307.96,425.52 307.07,428.76 306.09,432 305.01,435.24 303.84,438.48 302.58,441.72 301.23,444.96 299.79,448.2 298.27,451.44 296.65,454.68 294.94,457.92 293.15,461.16 291.27,464.4 289.3,467.64 287.25,470.88 285.11,474.12 282.89,477.36 280.58,480.6 278.19,483.84 275.71,487.08 273.15,490.32 270.5,493.56 267.77,496.8 L256.63,496.8 253.9,493.56 251.25,490.32 248.69,487.08 246.21,483.84 243.82,480.6 241.51,477.36 239.29,474.12 237.15,470.88 235.1,467.64 233.13,464.4 231.25,461.16 229.46,457.92 227.75,454.68 226.13,451.44 224.61,448.2 223.17,444.96 221.82,441.72 220.56,438.48 219.39,435.24 218.31,432 217.33,428.76 216.44,425.52 215.64,422.28 214.94,419.04 214.34,415.8 213.84,412.56 213.44,409.32 213.14,406.08 212.95,402.84 212.89,399.6 212.95,396.36 213.14,393.12 213.44,389.88 213.84,386.64 214.34,383.4 214.94,380.16 215.64,376.92 216.44,373.68 217.33,370.44 218.31,367.2 219.39,363.96 220.56,360.72 221.82,357.48 223.17,354.24 224.61,351 226.13,347.76 227.75,344.52 229.46,341.28 231.25,338.04 233.13,334.8 235.1,331.56 237.15,328.32 239.29,325.08 241.51,321.84 243.82,318.6 246.21,315.36 248.69,312.12 251.25,308.88 253.9,305.64 256.63,302.4Z" fill="#fff" stroke-width="2.37"/>
<path d="M257.85,302.9 L243.22,327.92 M257.85,496.3 L244.18,472.87 M259.97,302.9 L252.71,329.4 M259.97,496.3 L253.19,471.09 M262.2,302.9 L262.2,329.9 M262.2,496.3 L262.2,470.5 M264.43,302.9 L271.69,329.4 M264.43,496.3 L271.21,471.09 M266.55,302.9 L281.18,327.92 M266.55,496.3 L280.22,472.87" fill="none" stroke-width="1.36" stroke-opacity="1"/>
<path d="M238.47,326.3 Q262.2,332.5 285.93,326.3 L287.86,329.27 289.72,332.24 291.51,335.2 293.22,338.17 294.87,341.14 296.44,344.11 297.93,347.08 299.35,350.04 300.7,353.01 301.97,355.98 303.17,358.95 304.29,361.92 305.33,364.88 306.3,367.85 307.18,370.82 307.99,373.79 308.72,376.76 309.37,379.72 309.94,382.69 310.42,385.66 310.82,388.63 311.13,391.6 311.36,394.56 311.49,397.53 311.51,400.5 311.42,403.47 311.23,406.44 310.95,409.4 310.59,412.37 310.14,415.34 309.6,418.31 308.99,421.28 308.29,424.24 307.51,427.21 306.65,430.18 305.72,433.15 304.71,436.12 303.62,439.08 302.45,442.05 301.21,445.02 299.89,447.99 298.5,450.96 297.03,453.92 295.49,456.89 293.88,459.86 292.19,462.83 290.43,465.8 288.6,468.76 286.7,471.73 284.72,474.7 Q262.2,467.3 239.68,474.7 L237.7,471.73 235.8,468.76 233.97,465.8 232.21,462.83 230.52,459.86 228.91,456.89 227.37,453.92 225.9,450.96 224.51,447.99 223.19,445.02 221.95,442.05 220.78,439.08 219.69,436.12 218.68,433.15 217.75,430.18 216.89,427.21 216.11,424.24 215.41,421.28 214.8,418.31 214.26,415.34 213.81,412.37 213.45,409.4 213.17,406.44 212.98,403.47 212.89,400.5 212.91,397.53 213.04,394.56 213.27,391.6 213.58,388.63 213.98,385.66 214.46,382.69 215.03,379.72 215.68,376.76 216.41,373.79 217.22,370.82 218.1,367.85 219.07,364.88 220.11,361.92 221.23,358.95 222.43,355.98 223.7,353.01 225.05,350.04 226.47,347.08 227.96,344.11 229.53,341.14 231.18,338.17 232.89,335.2 234.68,332.24 236.54,329.27Z" fill="#8828e8" stroke="none"/>
<path d="M256.59,302.4 L257.6,299.25 A4.6,4.6 0 0 1 266.8,299.25 L267.81,302.4 Q262.2,305.6 256.59,302.4 Z" fill="#fff" stroke-width="2.3"/>
<path d="M256.59,496.8 L257.6,502.05 A4.6,4.6 0 0 0 266.8,502.05 L267.81,496.8 Q262.2,493.6 256.59,496.8 Z" fill="#fff" stroke-width="2.3"/>
</g>
<g stroke="#c828e8" stroke-linejoin="round">
<path d="M387.26,302.4 389.99,305.64 392.63,308.87 395.18,312.11 397.66,315.35 400.04,318.58 402.35,321.82 404.57,325.06 406.7,328.29 408.75,331.53 410.71,334.77 412.59,338 414.38,341.24 416.08,344.48 417.69,347.71 419.22,350.95 420.66,354.19 422,357.42 423.26,360.66 424.43,363.9 425.5,367.13 426.49,370.37 427.37,373.61 428.17,376.84 428.87,380.08 429.47,383.32 429.97,386.55 430.37,389.79 430.66,393.03 430.85,396.26 430.92,399.5 430.85,402.74 430.66,405.97 430.37,409.21 429.97,412.45 429.47,415.68 428.87,418.92 428.17,422.16 427.37,425.39 426.49,428.63 425.5,431.87 424.43,435.1 423.26,438.34 422,441.58 420.66,444.81 419.22,448.05 417.69,451.29 416.08,454.52 414.38,457.76 412.59,461 410.71,464.23 408.75,467.47 406.7,470.71 404.57,473.94 402.35,477.18 400.04,480.42 397.66,483.65 395.18,486.89 392.63,490.13 389.99,493.36 387.26,496.6 L376.14,496.6 373.41,493.36 370.77,490.13 368.22,486.89 365.74,483.65 363.36,480.42 361.05,477.18 358.83,473.94 356.7,470.71 354.65,467.47 352.69,464.23 350.81,461 349.02,457.76 347.32,454.52 345.71,451.29 344.18,448.05 342.74,444.81 341.4,441.58 340.14,438.34 338.97,435.1 337.9,431.87 336.91,428.63 336.03,425.39 335.23,422.16 334.53,418.92 333.93,415.68 333.43,412.45 333.03,409.21 332.74,405.97 332.55,402.74 332.48,399.5 332.55,396.26 332.74,393.03 333.03,389.79 333.43,386.55 333.93,383.32 334.53,380.08 335.23,376.84 336.03,373.61 336.91,370.37 337.9,367.13 338.97,363.9 340.14,360.66 341.4,357.42 342.74,354.19 344.18,350.95 345.71,347.71 347.32,344.48 349.02,341.24 350.81,338 352.69,334.77 354.65,331.53 356.7,328.29 358.83,325.06 361.05,321.82 363.36,318.58 365.74,315.35 368.22,312.11 370.77,308.87 373.41,305.64 376.14,302.4Z" fill="#fff" stroke-width="2.37"/>
<path d="M377.36,302.9 L362.74,327.92 M377.36,496.1 L363.98,473.24 M379.47,302.9 L372.22,329.4 M379.47,496.1 L372.84,471.56 M381.7,302.9 L381.7,329.9 M381.7,496.1 L381.7,471 M383.93,302.9 L391.18,329.4 M383.93,496.1 L390.56,471.56 M386.04,302.9 L400.66,327.92 M386.04,496.1 L399.42,473.24" fill="none" stroke-width="1.36" stroke-opacity="1"/>
<path d="M358,326.3 Q381.7,332.5 405.4,326.3 L407.33,329.27 409.19,332.25 410.98,335.22 412.7,338.2 414.34,341.17 415.91,344.14 417.4,347.12 418.82,350.09 420.17,353.07 421.44,356.04 422.63,359.01 423.75,361.99 424.79,364.96 425.76,367.94 426.64,370.91 427.45,373.88 428.17,376.86 428.82,379.83 429.38,382.81 429.86,385.78 430.25,388.75 430.56,391.73 430.77,394.7 430.89,397.68 430.91,400.65 430.81,403.62 430.61,406.6 430.33,409.57 429.95,412.55 429.49,415.52 428.95,418.49 428.32,421.47 427.62,424.44 426.83,427.42 425.96,430.39 425.02,433.36 423.99,436.34 422.89,439.31 421.72,442.29 420.46,445.26 419.14,448.23 417.73,451.21 416.25,454.18 414.7,457.16 413.08,460.13 411.38,463.1 409.6,466.08 407.76,469.05 405.84,472.03 403.85,475 Q381.7,468 359.55,475 L357.56,472.03 355.64,469.05 353.8,466.08 352.02,463.1 350.32,460.13 348.7,457.16 347.15,454.18 345.67,451.21 344.26,448.23 342.94,445.26 341.68,442.29 340.51,439.31 339.41,436.34 338.38,433.36 337.44,430.39 336.57,427.42 335.78,424.44 335.08,421.47 334.45,418.49 333.91,415.52 333.45,412.55 333.07,409.57 332.79,406.6 332.59,403.62 332.49,400.65 332.51,397.68 332.63,394.7 332.84,391.73 333.15,388.75 333.54,385.78 334.02,382.81 334.58,379.83 335.23,376.86 335.95,373.88 336.76,370.91 337.64,367.94 338.61,364.96 339.65,361.99 340.77,359.01 341.96,356.04 343.23,353.07 344.58,350.09 346,347.12 347.49,344.14 349.06,341.17 350.7,338.2 352.42,335.22 354.21,332.25 356.07,329.27Z" fill="#c828e8" stroke="none"/>
<path d="M376.1,302.4 L377.11,299.24 A4.59,4.59 0 0 1 386.29,299.24 L387.3,302.4 Q381.7,305.6 376.1,302.4 Z" fill="#fff" stroke-width="2.3"/>
<path d="M376.1,496.6 L377.11,501.86 A4.59,4.59 0 0 0 386.29,501.86 L387.3,496.6 Q381.7,493.4 376.1,496.6 Z" fill="#fff" stroke-width="2.3"/>
</g>
<g stroke="#ec28d2" stroke-linejoin="round">
<path d="M501.19,302.4 503.69,305.64 506.13,308.87 508.48,312.11 510.76,315.35 512.96,318.58 515.08,321.82 517.13,325.06 519.09,328.29 520.98,331.53 522.79,334.77 524.51,338 526.16,341.24 527.73,344.48 529.22,347.71 530.62,350.95 531.95,354.19 533.19,357.42 534.35,360.66 535.42,363.9 536.41,367.13 537.32,370.37 538.13,373.61 538.87,376.84 539.51,380.08 540.06,383.32 540.52,386.55 540.89,389.79 541.16,393.03 541.34,396.26 541.4,399.5 541.34,402.74 541.16,405.97 540.89,409.21 540.52,412.45 540.06,415.68 539.51,418.92 538.87,422.16 538.13,425.39 537.32,428.63 536.41,431.87 535.42,435.1 534.35,438.34 533.19,441.58 531.95,444.81 530.62,448.05 529.22,451.29 527.73,454.52 526.16,457.76 524.51,461 522.79,464.23 520.98,467.47 519.09,470.71 517.13,473.94 515.08,477.18 512.96,480.42 510.76,483.65 508.48,486.89 506.13,490.13 503.69,493.36 501.19,496.6 L490.81,496.6 488.31,493.36 485.87,490.13 483.52,486.89 481.24,483.65 479.04,480.42 476.92,477.18 474.87,473.94 472.91,470.71 471.02,467.47 469.21,464.23 467.49,461 465.84,457.76 464.27,454.52 462.78,451.29 461.38,448.05 460.05,444.81 458.81,441.58 457.65,438.34 456.58,435.1 455.59,431.87 454.68,428.63 453.87,425.39 453.13,422.16 452.49,418.92 451.94,415.68 451.48,412.45 451.11,409.21 450.84,405.97 450.66,402.74 450.6,399.5 450.66,396.26 450.84,393.03 451.11,389.79 451.48,386.55 451.94,383.32 452.49,380.08 453.13,376.84 453.87,373.61 454.68,370.37 455.59,367.13 456.58,363.9 457.65,360.66 458.81,357.42 460.05,354.19 461.38,350.95 462.78,347.71 464.27,344.48 465.84,341.24 467.49,338 469.21,334.77 471.02,331.53 472.91,328.29 474.87,325.06 476.92,321.82 479.04,318.58 481.24,315.35 483.52,312.11 485.87,308.87 488.31,305.64 490.81,302.4Z" fill="#fff" stroke-width="2.2"/>
<path d="M491.96,302.9 L478.68,327.52 M491.96,496.1 L479.48,473.01 M493.93,302.9 L487.34,329 M493.93,496.1 L487.74,471.43 M496,302.9 L496,329.5 M496,496.1 L496,470.9 M498.07,302.9 L504.66,329 M498.07,496.1 L504.26,471.43 M500.04,302.9 L513.32,327.52 M500.04,496.1 L512.52,473.01" fill="none" stroke-width="1.26" stroke-opacity="1"/>
<path d="M474.35,325.9 Q496,332.1 517.65,325.9 L519.44,328.88 521.16,331.85 522.82,334.83 524.41,337.8 525.93,340.78 527.39,343.76 528.78,346.73 530.09,349.71 531.34,352.68 532.52,355.66 533.63,358.64 534.67,361.61 535.64,364.59 536.54,367.56 537.36,370.54 538.11,373.52 538.79,376.49 539.39,379.47 539.92,382.44 540.37,385.42 540.75,388.4 541.04,391.37 541.25,394.35 541.37,397.32 541.39,400.3 541.31,403.28 541.14,406.25 540.89,409.23 540.55,412.2 540.14,415.18 539.65,418.16 539.08,421.13 538.44,424.11 537.72,427.08 536.93,430.06 536.06,433.04 535.13,436.01 534.12,438.99 533.04,441.96 531.9,444.94 530.68,447.92 529.39,450.89 528.04,453.87 526.62,456.84 525.12,459.82 523.56,462.8 521.94,465.77 520.24,468.75 518.48,471.72 516.65,474.7 Q496,468.1 475.35,474.7 L473.52,471.72 471.76,468.75 470.06,465.77 468.44,462.8 466.88,459.82 465.38,456.84 463.96,453.87 462.61,450.89 461.32,447.92 460.1,444.94 458.96,441.96 457.88,438.99 456.87,436.01 455.94,433.04 455.07,430.06 454.28,427.08 453.56,424.11 452.92,421.13 452.35,418.16 451.86,415.18 451.45,412.2 451.11,409.23 450.86,406.25 450.69,403.28 450.61,400.3 450.63,397.32 450.75,394.35 450.96,391.37 451.25,388.4 451.63,385.42 452.08,382.44 452.61,379.47 453.21,376.49 453.89,373.52 454.64,370.54 455.46,367.56 456.36,364.59 457.33,361.61 458.37,358.64 459.48,355.66 460.66,352.68 461.91,349.71 463.22,346.73 464.61,343.76 466.07,340.78 467.59,337.8 469.18,334.83 470.84,331.85 472.56,328.88Z" fill="#ec28d2" stroke="none"/>
<path d="M490.81,302.4 L491.74,298.85 A4.26,4.26 0 0 1 500.26,298.85 L501.19,302.4 Q496,305.6 490.81,302.4 Z" fill="#fff" stroke-width="2.2"/>
<path d="M490.81,496.6 L491.74,502.25 A4.26,4.26 0 0 0 500.26,502.25 L501.19,496.6 Q496,493.4 490.81,496.6 Z" fill="#fff" stroke-width="2.2"/>
</g>
<g stroke="#ec2898" stroke-linejoin="round">
<path d="M626.2,249.1 629.37,253.18 632.44,257.27 635.42,261.35 638.3,265.43 641.08,269.52 643.76,273.6 646.34,277.68 648.82,281.77 651.21,285.85 653.49,289.93 655.67,294.02 657.75,298.1 659.74,302.18 661.61,306.27 663.39,310.35 665.06,314.43 666.63,318.52 668.09,322.6 669.45,326.68 670.7,330.77 671.84,334.85 672.88,338.93 673.8,343.02 674.61,347.1 675.31,351.18 675.9,355.27 676.36,359.35 676.7,363.43 676.92,367.52 677,371.6 676.92,375.68 676.7,379.77 676.36,383.85 675.9,387.93 675.31,392.02 674.61,396.1 673.8,400.18 672.88,404.27 671.84,408.35 670.7,412.43 669.45,416.52 668.09,420.6 666.63,424.68 665.06,428.77 663.39,432.85 661.61,436.93 659.74,441.02 657.75,445.1 655.67,449.18 653.49,453.27 651.21,457.35 648.82,461.43 646.34,465.52 643.76,469.6 641.08,473.68 638.3,477.77 635.42,481.85 632.44,485.93 629.37,490.02 626.2,494.1 L613.4,494.1 610.23,490.02 607.16,485.93 604.18,481.85 601.3,477.77 598.52,473.68 595.84,469.6 593.26,465.52 590.78,461.43 588.39,457.35 586.11,453.27 583.93,449.18 581.85,445.1 579.86,441.02 577.99,436.93 576.21,432.85 574.54,428.77 572.97,424.68 571.51,420.6 570.15,416.52 568.9,412.43 567.76,408.35 566.72,404.27 565.8,400.18 564.99,396.1 564.29,392.02 563.7,387.93 563.24,383.85 562.9,379.77 562.68,375.68 562.6,371.6 562.68,367.52 562.9,363.43 563.24,359.35 563.7,355.27 564.29,351.18 564.99,347.1 565.8,343.02 566.72,338.93 567.76,334.85 568.9,330.77 570.15,326.68 571.51,322.6 572.97,318.52 574.54,314.43 576.21,310.35 577.99,306.27 579.86,302.18 581.85,298.1 583.93,294.02 586.11,289.93 588.39,285.85 590.78,281.77 593.26,277.68 595.84,273.6 598.52,269.52 601.3,265.43 604.18,261.35 607.16,257.27 610.23,253.18 613.4,249.1Z" fill="#fff" stroke-width="2.6"/>
<path d="M614.81,249.6 L598.31,280.14 M614.81,493.6 L598.51,463.46 M617.24,249.6 L609.06,282.06 M617.24,493.6 L609.16,461.54 M619.8,249.6 L619.8,282.7 M619.8,493.6 L619.8,460.9 M622.36,249.6 L630.54,282.06 M622.36,493.6 L630.44,461.54 M624.79,249.6 L641.29,280.14 M624.79,493.6 L641.09,463.46" fill="none" stroke-width="1.4" stroke-opacity="1"/>
<path d="M592.94,278.2 Q619.8,286.2 646.66,278.2 L648.93,281.94 651.11,285.69 653.21,289.43 655.23,293.18 657.16,296.92 659.01,300.66 660.77,304.41 662.45,308.15 664.03,311.9 665.54,315.64 666.95,319.38 668.27,323.13 669.51,326.87 670.66,330.62 671.71,334.36 672.68,338.1 673.55,341.85 674.33,345.59 675.01,349.34 675.6,353.08 676.09,356.82 676.48,360.57 676.76,364.31 676.94,368.06 677,371.8 676.93,375.54 676.74,379.29 676.44,383.03 676.04,386.78 675.54,390.52 674.94,394.26 674.25,398.01 673.46,401.75 672.58,405.5 671.6,409.24 670.54,412.98 669.38,416.73 668.14,420.47 666.8,424.22 665.38,427.96 663.87,431.7 662.27,435.45 660.59,439.19 658.82,442.94 656.96,446.68 655.02,450.42 652.99,454.17 650.88,457.91 648.69,461.66 646.41,465.4 Q619.8,457.4 593.19,465.4 L590.91,461.66 588.72,457.91 586.61,454.17 584.58,450.42 582.64,446.68 580.78,442.94 579.01,439.19 577.33,435.45 575.73,431.7 574.22,427.96 572.8,424.22 571.46,420.47 570.22,416.73 569.06,412.98 568,409.24 567.02,405.5 566.14,401.75 565.35,398.01 564.66,394.26 564.06,390.52 563.56,386.78 563.16,383.03 562.86,379.29 562.67,375.54 562.6,371.8 562.66,368.06 562.84,364.31 563.12,360.57 563.51,356.82 564,353.08 564.59,349.34 565.27,345.59 566.05,341.85 566.92,338.1 567.89,334.36 568.94,330.62 570.09,326.87 571.33,323.13 572.65,319.38 574.06,315.64 575.57,311.9 577.15,308.15 578.83,304.41 580.59,300.66 582.44,296.92 584.37,293.18 586.39,289.43 588.49,285.69 590.67,281.94Z" fill="#ec2898" stroke="none"/>
<path d="M613.25,249.1 L614.43,244.02 A5.37,5.37 0 0 1 625.17,244.02 L626.35,249.1 Q619.8,252.3 613.25,249.1 Z" fill="#fff" stroke-width="2.3"/>
<path d="M613.25,494.1 L614.43,500.78 A5.37,5.37 0 0 0 625.17,500.78 L626.35,494.1 Q619.8,490.9 613.25,494.1 Z" fill="#fff" stroke-width="2.3"/>
</g>
<path d="M129.94,50 C130.78,50 131.74,50.14 132.46,50.64 C133.19,51.14 133.95,52.06 134.29,52.99 C134.64,53.92 134.67,55.2 134.52,56.19 C134.37,57.19 133.57,58.08 133.38,58.97 C133.19,59.86 132.96,60.78 133.38,61.53 C133.8,62.28 134.67,62.81 135.9,63.45 C137.12,64.09 139.44,64.59 140.7,65.38 C141.96,66.16 142.84,66.91 143.45,68.15 C144.06,69.4 144.14,70.93 144.37,72.85 C144.6,74.77 144.6,77.05 144.83,79.68 C145.06,82.32 145.82,86.23 145.74,88.65 C145.67,91.07 144.86,92.85 144.37,94.2 C143.87,95.56 143.07,95.45 142.77,96.77 C142.46,98.08 142.57,99.26 142.54,102.11 C142.5,104.95 142.69,109.58 142.54,113.85 C142.38,118.12 141.96,123.03 141.62,127.73 C141.28,132.43 140.55,139.3 140.48,142.04 C140.4,144.78 140.28,143.46 141.16,144.17 C142.04,144.89 144.9,145.6 145.74,146.31 C146.58,147.02 146.51,147.95 146.2,148.45 C145.89,148.94 145.97,149.19 143.91,149.3 C141.85,149.41 135.67,149.37 133.83,149.09 C132,148.8 132.96,148.66 132.92,147.59 C132.88,146.52 133.64,145.81 133.61,142.68 C133.57,139.55 133.11,134.03 132.69,128.8 C132.27,123.57 131.58,113.25 131.09,111.29 C130.59,109.33 130.06,114.14 129.71,117.05 C129.37,119.97 129.18,124.64 129.03,128.8 C128.87,132.96 128.68,139.19 128.8,142.04 C128.91,144.89 129.67,144.74 129.71,145.88 C129.75,147.02 130.17,148.3 129.03,148.87 C127.88,149.44 124.06,149.51 122.84,149.3 C121.62,149.09 121.7,148.66 121.7,147.59 C121.7,146.52 122.81,146.03 122.84,142.89 C122.88,139.76 122.46,133.64 121.93,128.8 C121.39,123.96 120.17,118.41 119.64,113.85 C119.1,109.3 118.95,104.31 118.72,101.47 C118.49,98.62 118.65,97.91 118.26,96.77 C117.88,95.63 117.04,95.91 116.43,94.63 C115.82,93.35 114.83,91.57 114.6,89.08 C114.37,86.59 114.94,82.39 115.06,79.68 C115.17,76.98 115.13,74.74 115.29,72.85 C115.44,70.96 115.4,69.58 115.97,68.37 C116.55,67.16 117.42,66.37 118.72,65.59 C120.02,64.81 122.5,64.31 123.76,63.67 C125.02,63.03 125.82,62.49 126.28,61.75 C126.74,61 126.66,60.11 126.51,59.18 C126.35,58.26 125.51,57.23 125.36,56.19 C125.21,55.16 125.25,53.92 125.59,52.99 C125.93,52.06 126.7,51.14 127.42,50.64 C128.15,50.14 129.1,50 129.94,50Z" fill="none" stroke="#fff" stroke-opacity=".82" stroke-width="1.4" stroke-linejoin="round"/>
<path d="M624.03,40.6 C624.89,40.6 625.86,40.74 626.6,41.25 C627.34,41.75 628.12,42.69 628.47,43.63 C628.82,44.57 628.86,45.86 628.7,46.87 C628.54,47.88 627.73,48.79 627.53,49.69 C627.34,50.59 627.11,51.53 627.53,52.28 C627.96,53.04 628.86,53.58 630.1,54.23 C631.34,54.88 633.72,55.38 635,56.18 C636.28,56.97 637.18,57.73 637.8,58.99 C638.42,60.25 638.5,61.8 638.73,63.75 C638.97,65.7 638.97,68 639.2,70.67 C639.43,73.34 640.21,77.31 640.13,79.76 C640.06,82.21 639.24,84.01 638.73,85.38 C638.23,86.75 637.41,86.65 637.1,87.98 C636.79,89.31 636.91,90.5 636.87,93.39 C636.83,96.27 637.02,100.96 636.87,105.29 C636.71,109.61 636.28,114.59 635.93,119.35 C635.58,124.11 634.84,131.07 634.77,133.84 C634.69,136.62 634.57,135.29 635.47,136.01 C636.36,136.73 639.28,137.45 640.13,138.17 C640.99,138.89 640.91,139.83 640.6,140.33 C640.29,140.84 640.37,141.09 638.27,141.2 C636.17,141.31 629.87,141.27 628,140.98 C626.13,140.7 627.11,140.55 627.07,139.47 C627.03,138.39 627.81,137.67 627.77,134.49 C627.73,131.32 627.26,125.73 626.83,120.43 C626.41,115.13 625.71,104.67 625.2,102.69 C624.69,100.71 624.15,105.58 623.8,108.53 C623.45,111.49 623.26,116.21 623.1,120.43 C622.94,124.65 622.75,130.96 622.87,133.84 C622.98,136.73 623.76,136.58 623.8,137.74 C623.84,138.89 624.27,140.19 623.1,140.77 C621.93,141.34 618.04,141.42 616.8,141.2 C615.56,140.98 615.63,140.55 615.63,139.47 C615.63,138.39 616.76,137.88 616.8,134.71 C616.84,131.54 616.41,125.33 615.87,120.43 C615.32,115.53 614.08,109.9 613.53,105.29 C612.99,100.67 612.83,95.62 612.6,92.74 C612.37,89.85 612.52,89.13 612.13,87.98 C611.74,86.83 610.89,87.11 610.27,85.82 C609.64,84.52 608.63,82.71 608.4,80.19 C608.17,77.67 608.75,73.41 608.87,70.67 C608.98,67.93 608.94,65.66 609.1,63.75 C609.26,61.84 609.22,60.43 609.8,59.21 C610.38,57.98 611.28,57.19 612.6,56.39 C613.92,55.6 616.45,55.1 617.73,54.45 C619.02,53.8 619.83,53.26 620.3,52.5 C620.77,51.74 620.69,50.84 620.53,49.9 C620.38,48.97 619.52,47.92 619.37,46.87 C619.21,45.83 619.25,44.57 619.6,43.63 C619.95,42.69 620.73,41.75 621.47,41.25 C622.21,40.74 623.18,40.6 624.03,40.6Z" fill="none" stroke="#fff" stroke-opacity=".82" stroke-width="1.4" stroke-linejoin="round"/>
<path d="M148.04,351.8 C148.88,351.8 149.84,351.95 150.57,352.47 C151.3,352.99 152.07,353.96 152.42,354.93 C152.76,355.89 152.8,357.23 152.65,358.27 C152.49,359.32 151.69,360.25 151.5,361.18 C151.3,362.11 151.07,363.07 151.5,363.85 C151.92,364.64 152.8,365.19 154.03,365.86 C155.26,366.53 157.6,367.05 158.87,367.87 C160.14,368.69 161.02,369.47 161.63,370.77 C162.25,372.08 162.33,373.68 162.56,375.69 C162.79,377.69 162.79,380.08 163.02,382.83 C163.25,385.58 164.02,389.67 163.94,392.2 C163.86,394.73 163.06,396.59 162.56,398.01 C162.06,399.42 161.25,399.31 160.94,400.69 C160.64,402.06 160.75,403.29 160.71,406.27 C160.67,409.24 160.87,414.08 160.71,418.54 C160.56,423.01 160.14,428.14 159.79,433.05 C159.45,437.97 158.72,445.15 158.64,448.01 C158.56,450.88 158.45,449.5 159.33,450.24 C160.21,450.99 163.09,451.73 163.94,452.47 C164.78,453.22 164.71,454.19 164.4,454.71 C164.09,455.23 164.17,455.49 162.1,455.6 C160.02,455.71 153.8,455.67 151.96,455.38 C150.11,455.08 151.07,454.93 151.03,453.81 C151,452.7 151.76,451.95 151.73,448.68 C151.69,445.41 151.23,439.64 150.8,434.17 C150.38,428.7 149.69,417.91 149.19,415.87 C148.69,413.82 148.15,418.84 147.81,421.89 C147.46,424.94 147.27,429.82 147.12,434.17 C146.96,438.52 146.77,445.03 146.89,448.01 C147,450.99 147.77,450.84 147.81,452.03 C147.85,453.22 148.27,454.56 147.12,455.15 C145.97,455.75 142.12,455.82 140.9,455.6 C139.67,455.38 139.74,454.93 139.74,453.81 C139.74,452.7 140.86,452.18 140.9,448.9 C140.93,445.63 140.51,439.23 139.97,434.17 C139.44,429.11 138.21,423.31 137.67,418.54 C137.13,413.78 136.98,408.57 136.75,405.6 C136.52,402.62 136.67,401.88 136.29,400.69 C135.9,399.5 135.06,399.79 134.44,398.45 C133.83,397.11 132.83,395.25 132.6,392.65 C132.37,390.05 132.95,385.66 133.06,382.83 C133.18,380 133.14,377.66 133.29,375.69 C133.44,373.71 133.41,372.26 133.98,371 C134.56,369.73 135.44,368.91 136.75,368.1 C138.05,367.28 140.55,366.76 141.82,366.09 C143.08,365.42 143.89,364.86 144.35,364.08 C144.81,363.3 144.74,362.37 144.58,361.4 C144.43,360.43 143.58,359.35 143.43,358.27 C143.28,357.19 143.32,355.89 143.66,354.93 C144.01,353.96 144.77,352.99 145.5,352.47 C146.23,351.95 147.19,351.8 148.04,351.8Z" fill="none" stroke="#fff" stroke-opacity=".82" stroke-width="1.4" stroke-linejoin="round"/>
<path d="M619.63,322 C620.49,322 621.46,322.15 622.2,322.66 C622.94,323.17 623.72,324.12 624.07,325.08 C624.42,326.03 624.46,327.35 624.3,328.37 C624.14,329.4 623.33,330.32 623.13,331.23 C622.94,332.15 622.71,333.1 623.13,333.87 C623.56,334.64 624.46,335.19 625.7,335.85 C626.94,336.51 629.32,337.02 630.6,337.82 C631.88,338.63 632.78,339.4 633.4,340.68 C634.02,341.96 634.1,343.54 634.33,345.52 C634.57,347.5 634.57,349.84 634.8,352.55 C635.03,355.26 635.81,359.29 635.73,361.78 C635.66,364.27 634.84,366.1 634.33,367.5 C633.83,368.89 633.01,368.78 632.7,370.13 C632.39,371.49 632.51,372.7 632.47,375.63 C632.43,378.56 632.62,383.32 632.47,387.72 C632.31,392.11 631.88,397.17 631.53,402 C631.18,406.84 630.44,413.91 630.37,416.73 C630.29,419.55 630.17,418.19 631.07,418.93 C631.96,419.66 634.88,420.39 635.73,421.12 C636.59,421.86 636.51,422.81 636.2,423.32 C635.89,423.83 635.97,424.09 633.87,424.2 C631.77,424.31 625.47,424.27 623.6,423.98 C621.73,423.69 622.71,423.54 622.67,422.44 C622.63,421.34 623.41,420.61 623.37,417.39 C623.33,414.16 622.86,408.49 622.43,403.1 C622.01,397.72 621.31,387.09 620.8,385.08 C620.29,383.06 619.75,388.01 619.4,391.01 C619.05,394.02 618.86,398.81 618.7,403.1 C618.54,407.39 618.35,413.8 618.47,416.73 C618.58,419.66 619.36,419.51 619.4,420.68 C619.44,421.86 619.87,423.17 618.7,423.76 C617.53,424.35 613.64,424.42 612.4,424.2 C611.16,423.98 611.23,423.54 611.23,422.44 C611.23,421.34 612.36,420.83 612.4,417.61 C612.44,414.38 612.01,408.08 611.47,403.1 C610.92,398.12 609.68,392.4 609.13,387.72 C608.59,383.03 608.43,377.9 608.2,374.97 C607.97,372.04 608.12,371.31 607.73,370.13 C607.34,368.96 606.49,369.25 605.87,367.94 C605.24,366.62 604.23,364.78 604,362.22 C603.77,359.66 604.35,355.33 604.47,352.55 C604.58,349.77 604.54,347.46 604.7,345.52 C604.86,343.58 604.82,342.15 605.4,340.9 C605.98,339.66 606.88,338.85 608.2,338.04 C609.52,337.24 612.05,336.73 613.33,336.07 C614.62,335.41 615.43,334.86 615.9,334.09 C616.37,333.32 616.29,332.4 616.13,331.45 C615.98,330.5 615.12,329.44 614.97,328.37 C614.81,327.31 614.85,326.03 615.2,325.08 C615.55,324.12 616.33,323.17 617.07,322.66 C617.81,322.15 618.78,322 619.63,322Z" fill="none" stroke="#fff" stroke-opacity=".82" stroke-width="1.4" stroke-linejoin="round"/>
<g transform="translate(24,93.6) rotate(-3.5) scale(1.05)"><path d="M-6.9,-7.2 L6.9,-7.2 Q8.2,-7.2 8.5,-5.9 L10.5,5.6 Q10.8,7.2 9.2,7.2 L-9.2,7.2 Q-10.8,7.2 -10.5,5.6 L-8.5,-5.9 Q-8.2,-7.2 -6.9,-7.2Z" fill="none" stroke="#fff" stroke-opacity=".75" stroke-width="1.2" stroke-linejoin="round"/><circle cx="0" cy="-10.3" r="3.15" fill="none" stroke="#fff" stroke-opacity=".75" stroke-width="2.8"/><path d="M-6.9,-7.2 L6.9,-7.2 Q8.2,-7.2 8.5,-5.9 L10.5,5.6 Q10.8,7.2 9.2,7.2 L-9.2,7.2 Q-10.8,7.2 -10.5,5.6 L-8.5,-5.9 Q-8.2,-7.2 -6.9,-7.2Z" fill="#3c4043"/><circle cx="0" cy="-10.3" r="3.15" fill="none" stroke="#3c4043" stroke-width="1.65"/><text x="0" y="-.3" textLength="10.6" lengthAdjust="spacingAndGlyphs" class="tg">80Kg</text><text x="0" y="3.9" textLength="10" lengthAdjust="spacingAndGlyphs" class="tg">Max.</text></g>
<g transform="translate(150.8,50.4) rotate(4) scale(1.05)"><path d="M-6.9,-7.2 L6.9,-7.2 Q8.2,-7.2 8.5,-5.9 L10.5,5.6 Q10.8,7.2 9.2,7.2 L-9.2,7.2 Q-10.8,7.2 -10.5,5.6 L-8.5,-5.9 Q-8.2,-7.2 -6.9,-7.2Z" fill="none" stroke="#fff" stroke-opacity=".75" stroke-width="1.2" stroke-linejoin="round"/><circle cx="0" cy="-10.3" r="3.15" fill="none" stroke="#fff" stroke-opacity=".75" stroke-width="2.8"/><path d="M-6.9,-7.2 L6.9,-7.2 Q8.2,-7.2 8.5,-5.9 L10.5,5.6 Q10.8,7.2 9.2,7.2 L-9.2,7.2 Q-10.8,7.2 -10.5,5.6 L-8.5,-5.9 Q-8.2,-7.2 -6.9,-7.2Z" fill="#3c4043"/><circle cx="0" cy="-10.3" r="3.15" fill="none" stroke="#3c4043" stroke-width="1.65"/><text x="0" y="-.3" textLength="12.8" lengthAdjust="spacingAndGlyphs" class="tg">120Kg</text><text x="0" y="3.9" textLength="10" lengthAdjust="spacingAndGlyphs" class="tg">Max.</text></g>
<g transform="translate(188.3,77.8) rotate(-13) scale(1.05)"><path d="M-6.9,-7.2 L6.9,-7.2 Q8.2,-7.2 8.5,-5.9 L10.5,5.6 Q10.8,7.2 9.2,7.2 L-9.2,7.2 Q-10.8,7.2 -10.5,5.6 L-8.5,-5.9 Q-8.2,-7.2 -6.9,-7.2Z" fill="none" stroke="#fff" stroke-opacity=".75" stroke-width="1.2" stroke-linejoin="round"/><circle cx="0" cy="-10.3" r="3.15" fill="none" stroke="#fff" stroke-opacity=".75" stroke-width="2.8"/><path d="M-6.9,-7.2 L6.9,-7.2 Q8.2,-7.2 8.5,-5.9 L10.5,5.6 Q10.8,7.2 9.2,7.2 L-9.2,7.2 Q-10.8,7.2 -10.5,5.6 L-8.5,-5.9 Q-8.2,-7.2 -6.9,-7.2Z" fill="#3c4043"/><circle cx="0" cy="-10.3" r="3.15" fill="none" stroke="#3c4043" stroke-width="1.65"/><text x="0" y="-.3" textLength="12.8" lengthAdjust="spacingAndGlyphs" class="tg">120Kg</text><text x="0" y="3.9" textLength="10" lengthAdjust="spacingAndGlyphs" class="tg">Max.</text></g>
<g transform="translate(286.3,62.1) rotate(2) scale(1.05)"><path d="M-6.9,-7.2 L6.9,-7.2 Q8.2,-7.2 8.5,-5.9 L10.5,5.6 Q10.8,7.2 9.2,7.2 L-9.2,7.2 Q-10.8,7.2 -10.5,5.6 L-8.5,-5.9 Q-8.2,-7.2 -6.9,-7.2Z" fill="none" stroke="#fff" stroke-opacity=".75" stroke-width="1.2" stroke-linejoin="round"/><circle cx="0" cy="-10.3" r="3.15" fill="none" stroke="#fff" stroke-opacity=".75" stroke-width="2.8"/><path d="M-6.9,-7.2 L6.9,-7.2 Q8.2,-7.2 8.5,-5.9 L10.5,5.6 Q10.8,7.2 9.2,7.2 L-9.2,7.2 Q-10.8,7.2 -10.5,5.6 L-8.5,-5.9 Q-8.2,-7.2 -6.9,-7.2Z" fill="#3c4043"/><circle cx="0" cy="-10.3" r="3.15" fill="none" stroke="#3c4043" stroke-width="1.65"/><text x="0" y="-.3" textLength="12.8" lengthAdjust="spacingAndGlyphs" class="tg">150Kg</text><text x="0" y="3.9" textLength="10" lengthAdjust="spacingAndGlyphs" class="tg">Max.</text></g>
<g transform="translate(428.1,55.7) rotate(-5) scale(1.05)"><path d="M-6.9,-7.2 L6.9,-7.2 Q8.2,-7.2 8.5,-5.9 L10.5,5.6 Q10.8,7.2 9.2,7.2 L-9.2,7.2 Q-10.8,7.2 -10.5,5.6 L-8.5,-5.9 Q-8.2,-7.2 -6.9,-7.2Z" fill="none" stroke="#fff" stroke-opacity=".75" stroke-width="1.2" stroke-linejoin="round"/><circle cx="0" cy="-10.3" r="3.15" fill="none" stroke="#fff" stroke-opacity=".75" stroke-width="2.8"/><path d="M-6.9,-7.2 L6.9,-7.2 Q8.2,-7.2 8.5,-5.9 L10.5,5.6 Q10.8,7.2 9.2,7.2 L-9.2,7.2 Q-10.8,7.2 -10.5,5.6 L-8.5,-5.9 Q-8.2,-7.2 -6.9,-7.2Z" fill="#3c4043"/><circle cx="0" cy="-10.3" r="3.15" fill="none" stroke="#3c4043" stroke-width="1.65"/><text x="0" y="-.3" textLength="12.8" lengthAdjust="spacingAndGlyphs" class="tg">150Kg</text><text x="0" y="3.9" textLength="10" lengthAdjust="spacingAndGlyphs" class="tg">Max.</text></g>
<g transform="translate(480.3,136.2) rotate(-0.5) scale(1.05)"><path d="M-6.9,-7.2 L6.9,-7.2 Q8.2,-7.2 8.5,-5.9 L10.5,5.6 Q10.8,7.2 9.2,7.2 L-9.2,7.2 Q-10.8,7.2 -10.5,5.6 L-8.5,-5.9 Q-8.2,-7.2 -6.9,-7.2Z" fill="none" stroke="#fff" stroke-opacity=".75" stroke-width="1.2" stroke-linejoin="round"/><circle cx="0" cy="-10.3" r="3.15" fill="none" stroke="#fff" stroke-opacity=".75" stroke-width="2.8"/><path d="M-6.9,-7.2 L6.9,-7.2 Q8.2,-7.2 8.5,-5.9 L10.5,5.6 Q10.8,7.2 9.2,7.2 L-9.2,7.2 Q-10.8,7.2 -10.5,5.6 L-8.5,-5.9 Q-8.2,-7.2 -6.9,-7.2Z" fill="#3c4043"/><circle cx="0" cy="-10.3" r="3.15" fill="none" stroke="#3c4043" stroke-width="1.65"/><text x="0" y="-.3" textLength="12.8" lengthAdjust="spacingAndGlyphs" class="tg">150Kg</text><text x="0" y="3.9" textLength="10" lengthAdjust="spacingAndGlyphs" class="tg">Max.</text></g>
<g transform="translate(663.4,57.9) rotate(1.5) scale(1.05)"><path d="M-6.9,-7.2 L6.9,-7.2 Q8.2,-7.2 8.5,-5.9 L10.5,5.6 Q10.8,7.2 9.2,7.2 L-9.2,7.2 Q-10.8,7.2 -10.5,5.6 L-8.5,-5.9 Q-8.2,-7.2 -6.9,-7.2Z" fill="none" stroke="#fff" stroke-opacity=".75" stroke-width="1.2" stroke-linejoin="round"/><circle cx="0" cy="-10.3" r="3.15" fill="none" stroke="#fff" stroke-opacity=".75" stroke-width="2.8"/><path d="M-6.9,-7.2 L6.9,-7.2 Q8.2,-7.2 8.5,-5.9 L10.5,5.6 Q10.8,7.2 9.2,7.2 L-9.2,7.2 Q-10.8,7.2 -10.5,5.6 L-8.5,-5.9 Q-8.2,-7.2 -6.9,-7.2Z" fill="#3c4043"/><circle cx="0" cy="-10.3" r="3.15" fill="none" stroke="#3c4043" stroke-width="1.65"/><text x="0" y="-.3" textLength="12.8" lengthAdjust="spacingAndGlyphs" class="tg">200Kg</text><text x="0" y="3.9" textLength="10" lengthAdjust="spacingAndGlyphs" class="tg">Max.</text></g>
<g transform="translate(11,439.7) rotate(1) scale(1.12)"><path d="M-6.9,-7.2 L6.9,-7.2 Q8.2,-7.2 8.5,-5.9 L10.5,5.6 Q10.8,7.2 9.2,7.2 L-9.2,7.2 Q-10.8,7.2 -10.5,5.6 L-8.5,-5.9 Q-8.2,-7.2 -6.9,-7.2Z" fill="none" stroke="#fff" stroke-opacity=".75" stroke-width="1.2" stroke-linejoin="round"/><circle cx="0" cy="-10.3" r="3.15" fill="none" stroke="#fff" stroke-opacity=".75" stroke-width="2.8"/><path d="M-6.9,-7.2 L6.9,-7.2 Q8.2,-7.2 8.5,-5.9 L10.5,5.6 Q10.8,7.2 9.2,7.2 L-9.2,7.2 Q-10.8,7.2 -10.5,5.6 L-8.5,-5.9 Q-8.2,-7.2 -6.9,-7.2Z" fill="#3c4043"/><circle cx="0" cy="-10.3" r="3.15" fill="none" stroke="#3c4043" stroke-width="1.65"/><text x="0" y="-.3" textLength="12.8" lengthAdjust="spacingAndGlyphs" class="tg">200Kg</text><text x="0" y="3.9" textLength="10" lengthAdjust="spacingAndGlyphs" class="tg">Max.</text></g>
<g transform="translate(182.1,360.1) rotate(-12) scale(1.05)"><path d="M-6.9,-7.2 L6.9,-7.2 Q8.2,-7.2 8.5,-5.9 L10.5,5.6 Q10.8,7.2 9.2,7.2 L-9.2,7.2 Q-10.8,7.2 -10.5,5.6 L-8.5,-5.9 Q-8.2,-7.2 -6.9,-7.2Z" fill="none" stroke="#fff" stroke-opacity=".75" stroke-width="1.2" stroke-linejoin="round"/><circle cx="0" cy="-10.3" r="3.15" fill="none" stroke="#fff" stroke-opacity=".75" stroke-width="2.8"/><path d="M-6.9,-7.2 L6.9,-7.2 Q8.2,-7.2 8.5,-5.9 L10.5,5.6 Q10.8,7.2 9.2,7.2 L-9.2,7.2 Q-10.8,7.2 -10.5,5.6 L-8.5,-5.9 Q-8.2,-7.2 -6.9,-7.2Z" fill="#3c4043"/><circle cx="0" cy="-10.3" r="3.15" fill="none" stroke="#3c4043" stroke-width="1.65"/><text x="0" y="-.3" textLength="12.8" lengthAdjust="spacingAndGlyphs" class="tg">200Kg</text><text x="0" y="3.9" textLength="10" lengthAdjust="spacingAndGlyphs" class="tg">Max.</text></g>
<g transform="translate(297.5,449.2) rotate(25.7) scale(1.05)"><path d="M-6.9,-7.2 L6.9,-7.2 Q8.2,-7.2 8.5,-5.9 L10.5,5.6 Q10.8,7.2 9.2,7.2 L-9.2,7.2 Q-10.8,7.2 -10.5,5.6 L-8.5,-5.9 Q-8.2,-7.2 -6.9,-7.2Z" fill="none" stroke="#fff" stroke-opacity=".75" stroke-width="1.2" stroke-linejoin="round"/><circle cx="0" cy="-10.3" r="3.15" fill="none" stroke="#fff" stroke-opacity=".75" stroke-width="2.8"/><path d="M-6.9,-7.2 L6.9,-7.2 Q8.2,-7.2 8.5,-5.9 L10.5,5.6 Q10.8,7.2 9.2,7.2 L-9.2,7.2 Q-10.8,7.2 -10.5,5.6 L-8.5,-5.9 Q-8.2,-7.2 -6.9,-7.2Z" fill="#3c4043"/><circle cx="0" cy="-10.3" r="3.15" fill="none" stroke="#3c4043" stroke-width="1.65"/><text x="0" y="-.3" textLength="12.8" lengthAdjust="spacingAndGlyphs" class="tg">200Kg</text><text x="0" y="3.9" textLength="10" lengthAdjust="spacingAndGlyphs" class="tg">Max.</text></g>
<g transform="translate(425.7,434.6) rotate(-11) scale(1.05)"><path d="M-6.9,-7.2 L6.9,-7.2 Q8.2,-7.2 8.5,-5.9 L10.5,5.6 Q10.8,7.2 9.2,7.2 L-9.2,7.2 Q-10.8,7.2 -10.5,5.6 L-8.5,-5.9 Q-8.2,-7.2 -6.9,-7.2Z" fill="none" stroke="#fff" stroke-opacity=".75" stroke-width="1.2" stroke-linejoin="round"/><circle cx="0" cy="-10.3" r="3.15" fill="none" stroke="#fff" stroke-opacity=".75" stroke-width="2.8"/><path d="M-6.9,-7.2 L6.9,-7.2 Q8.2,-7.2 8.5,-5.9 L10.5,5.6 Q10.8,7.2 9.2,7.2 L-9.2,7.2 Q-10.8,7.2 -10.5,5.6 L-8.5,-5.9 Q-8.2,-7.2 -6.9,-7.2Z" fill="#3c4043"/><circle cx="0" cy="-10.3" r="3.15" fill="none" stroke="#3c4043" stroke-width="1.65"/><text x="0" y="-.3" textLength="12.8" lengthAdjust="spacingAndGlyphs" class="tg">200Kg</text><text x="0" y="3.9" textLength="10" lengthAdjust="spacingAndGlyphs" class="tg">Max.</text></g>
<g transform="translate(464.9,346.7) rotate(-9.5) scale(1.05)"><path d="M-6.9,-7.2 L6.9,-7.2 Q8.2,-7.2 8.5,-5.9 L10.5,5.6 Q10.8,7.2 9.2,7.2 L-9.2,7.2 Q-10.8,7.2 -10.5,5.6 L-8.5,-5.9 Q-8.2,-7.2 -6.9,-7.2Z" fill="none" stroke="#fff" stroke-opacity=".75" stroke-width="1.2" stroke-linejoin="round"/><circle cx="0" cy="-10.3" r="3.15" fill="none" stroke="#fff" stroke-opacity=".75" stroke-width="2.8"/><path d="M-6.9,-7.2 L6.9,-7.2 Q8.2,-7.2 8.5,-5.9 L10.5,5.6 Q10.8,7.2 9.2,7.2 L-9.2,7.2 Q-10.8,7.2 -10.5,5.6 L-8.5,-5.9 Q-8.2,-7.2 -6.9,-7.2Z" fill="#3c4043"/><circle cx="0" cy="-10.3" r="3.15" fill="none" stroke="#3c4043" stroke-width="1.65"/><text x="0" y="-.3" textLength="12.8" lengthAdjust="spacingAndGlyphs" class="tg">200Kg</text><text x="0" y="3.9" textLength="10" lengthAdjust="spacingAndGlyphs" class="tg">Max.</text></g>
<g transform="translate(676.1,384.1) rotate(-9.5) scale(1.05)"><path d="M-6.9,-7.2 L6.9,-7.2 Q8.2,-7.2 8.5,-5.9 L10.5,5.6 Q10.8,7.2 9.2,7.2 L-9.2,7.2 Q-10.8,7.2 -10.5,5.6 L-8.5,-5.9 Q-8.2,-7.2 -6.9,-7.2Z" fill="none" stroke="#fff" stroke-opacity=".75" stroke-width="1.2" stroke-linejoin="round"/><circle cx="0" cy="-10.3" r="3.15" fill="none" stroke="#fff" stroke-opacity=".75" stroke-width="2.8"/><path d="M-6.9,-7.2 L6.9,-7.2 Q8.2,-7.2 8.5,-5.9 L10.5,5.6 Q10.8,7.2 9.2,7.2 L-9.2,7.2 Q-10.8,7.2 -10.5,5.6 L-8.5,-5.9 Q-8.2,-7.2 -6.9,-7.2Z" fill="#3c4043"/><circle cx="0" cy="-10.3" r="3.15" fill="none" stroke="#3c4043" stroke-width="1.65"/><text x="0" y="-.3" textLength="12.8" lengthAdjust="spacingAndGlyphs" class="tg">200Kg</text><text x="0" y="3.9" textLength="10" lengthAdjust="spacingAndGlyphs" class="tg">Max.</text></g>
<text class="lb" x="30.1" y="124.1" font-size="10" textLength="27" lengthAdjust="spacingAndGlyphs">Chico</text>
<text class="lb" x="22.7" y="132.9" font-size="10" textLength="44.4" lengthAdjust="spacingAndGlyphs">Rainbow</text>
<text class="lb" x="116.5" y="103.6" font-size="10.6" textLength="27.5" lengthAdjust="spacingAndGlyphs">Tahiti</text>
<text class="lb" x="199.5" y="101" font-size="10.6" textLength="34.5" lengthAdjust="spacingAndGlyphs">Florida</text>
<text class="lb" x="287.5" y="103.6" font-size="10.6" textLength="41.5" lengthAdjust="spacingAndGlyphs">Santana</text>
<text class="lb" x="379.8" y="100.2" font-size="10.6" textLength="47.2" lengthAdjust="spacingAndGlyphs">Lambada</text>
<text class="lb" x="498.8" y="103.2" font-size="10.6" textLength="26.2" lengthAdjust="spacingAndGlyphs">Salsa</text>
<text class="lb" x="599.8" y="95" font-size="10.6" textLength="48.7" lengthAdjust="spacingAndGlyphs">Barbados</text>
<text class="lb" x="30.5" y="409" font-size="10.8" textLength="22.5" lengthAdjust="spacingAndGlyphs">Arte</text>
<text class="lb" x="117.8" y="407.5" font-size="10.8" textLength="62.7" lengthAdjust="spacingAndGlyphs">Colombiana</text>
<text class="lb" x="240" y="405" font-size="10.8" textLength="45" lengthAdjust="spacingAndGlyphs">Paradiso</text>
<text class="lb" x="363" y="405" font-size="10.8" textLength="39" lengthAdjust="spacingAndGlyphs">Carioca</text>
<text class="lb" x="488" y="405" font-size="10.8" textLength="16.5" lengthAdjust="spacingAndGlyphs">Rio</text>
<text class="lb" x="599.8" y="372.5" font-size="10.4" textLength="41.2" lengthAdjust="spacingAndGlyphs">Gigante</text>
<text class="lb" x="609" y="381.2" font-size="10.4" textLength="22.8" lengthAdjust="spacingAndGlyphs">Lava</text>
<g fill="none" stroke="#333" stroke-width="2.4" stroke-linejoin="miter">
<path d="M5.3,206.3 V213.2 H302"/>
<path d="M376.5,213.2 H673.8 V206.3"/>
<path d="M360.3,224.8 V232 H480"/>
<path d="M552.5,232 H673.8 V224.8"/>
</g>
<text class="pp" x="309.4" y="217.7">1<tspan dx="-1"> PERSON</tspan></text>
<text class="pp" x="487.3" y="236.5">2<tspan dx="-0.4"> PERSON</tspan></text>
</svg></body></html>
